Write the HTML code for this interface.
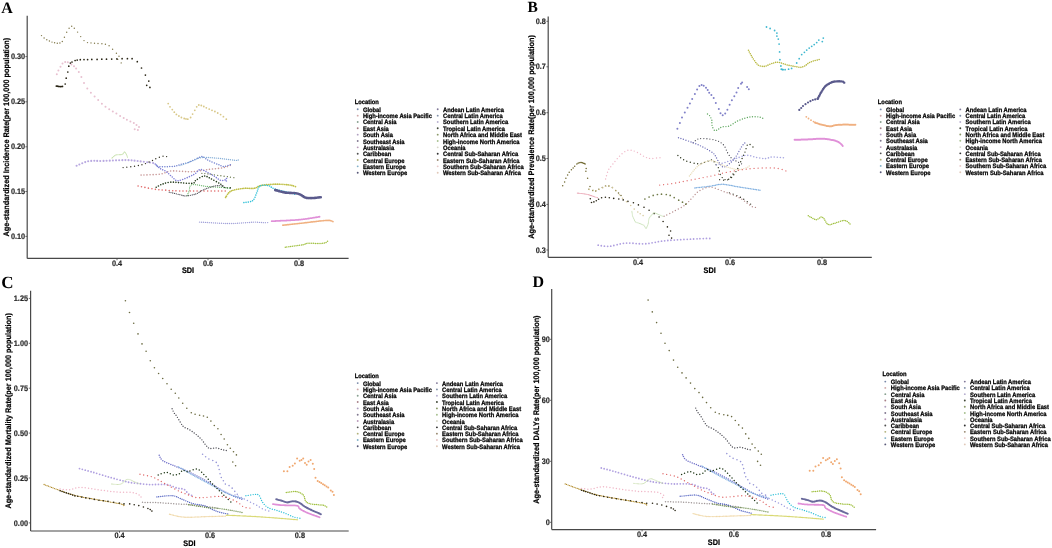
<!DOCTYPE html>
<html><head><meta charset="utf-8"><style>html,body{margin:0;padding:0;background:#fff;width:1052px;height:548px;overflow:hidden}svg{display:block;will-change:transform}</style></head>
<body><div id="w"><svg text-rendering="geometricPrecision" width="1052" height="548" viewBox="0 0 1052 548">
<defs><filter id="bl" x="0" y="0" width="1" height="1"><feGaussianBlur stdDeviation="0"/></filter></defs>
<rect width="1052" height="548" fill="#fff"/>
<g>
<text x="1.3" y="12.9" font-family="Liberation Serif" font-weight="700" font-size="16" fill="#000" text-anchor="start" stroke="#000" stroke-width="0">A</text>
<line x1="27.2" y1="15.7" x2="27.2" y2="258.4" stroke="#484848" stroke-width="1.2"/>
<line x1="27.2" y1="258.4" x2="348.6" y2="258.4" stroke="#484848" stroke-width="1.2"/>
<line x1="25.4" y1="56.6" x2="27.2" y2="56.6" stroke="#484848" stroke-width="0.8"/>
<text x="25.099999999999998" y="59.25" font-family="Liberation Sans" font-weight="700" font-size="7.3" fill="#262626" text-anchor="end" stroke="#262626" stroke-width="0.16" transform="translate(25.099999999999998 59.25) scale(1 1.1) translate(-25.099999999999998 -59.25)">0.30</text>
<line x1="25.4" y1="101.8" x2="27.2" y2="101.8" stroke="#484848" stroke-width="0.8"/>
<text x="25.099999999999998" y="104.45" font-family="Liberation Sans" font-weight="700" font-size="7.3" fill="#262626" text-anchor="end" stroke="#262626" stroke-width="0.16" transform="translate(25.099999999999998 104.45) scale(1 1.1) translate(-25.099999999999998 -104.45)">0.25</text>
<line x1="25.4" y1="146.8" x2="27.2" y2="146.8" stroke="#484848" stroke-width="0.8"/>
<text x="25.099999999999998" y="149.45000000000002" font-family="Liberation Sans" font-weight="700" font-size="7.3" fill="#262626" text-anchor="end" stroke="#262626" stroke-width="0.16" transform="translate(25.099999999999998 149.45000000000002) scale(1 1.1) translate(-25.099999999999998 -149.45000000000002)">0.20</text>
<line x1="25.4" y1="191.5" x2="27.2" y2="191.5" stroke="#484848" stroke-width="0.8"/>
<text x="25.099999999999998" y="194.15" font-family="Liberation Sans" font-weight="700" font-size="7.3" fill="#262626" text-anchor="end" stroke="#262626" stroke-width="0.16" transform="translate(25.099999999999998 194.15) scale(1 1.1) translate(-25.099999999999998 -194.15)">0.15</text>
<line x1="25.4" y1="236.4" x2="27.2" y2="236.4" stroke="#484848" stroke-width="0.8"/>
<text x="25.099999999999998" y="239.05" font-family="Liberation Sans" font-weight="700" font-size="7.3" fill="#262626" text-anchor="end" stroke="#262626" stroke-width="0.16" transform="translate(25.099999999999998 239.05) scale(1 1.1) translate(-25.099999999999998 -239.05)">0.10</text>
<line x1="117" y1="258.4" x2="117" y2="260.2" stroke="#484848" stroke-width="0.8"/>
<text x="117" y="266.4" font-family="Liberation Sans" font-weight="700" font-size="7.3" fill="#262626" text-anchor="middle" stroke="#262626" stroke-width="0.16" transform="translate(117 266.4) scale(1 1.1) translate(-117 -266.4)">0.4</text>
<line x1="208" y1="258.4" x2="208" y2="260.2" stroke="#484848" stroke-width="0.8"/>
<text x="208" y="266.4" font-family="Liberation Sans" font-weight="700" font-size="7.3" fill="#262626" text-anchor="middle" stroke="#262626" stroke-width="0.16" transform="translate(208 266.4) scale(1 1.1) translate(-208 -266.4)">0.6</text>
<line x1="299" y1="258.4" x2="299" y2="260.2" stroke="#484848" stroke-width="0.8"/>
<text x="299" y="266.4" font-family="Liberation Sans" font-weight="700" font-size="7.3" fill="#262626" text-anchor="middle" stroke="#262626" stroke-width="0.16" transform="translate(299 266.4) scale(1 1.1) translate(-299 -266.4)">0.8</text>
<text x="188" y="273.4" font-family="Liberation Sans" font-weight="700" font-size="7.3" fill="#000" text-anchor="middle" stroke="#000" stroke-width="0.2" transform="translate(188 273.4) scale(1 1.1) translate(-188 -273.4)">SDI</text>
<text x="9.2" y="137.1" font-family="Liberation Sans" font-weight="700" font-size="7.3" fill="#000" text-anchor="middle" stroke="#000" stroke-width="0.2" transform="rotate(-90 9.2 137.1) translate(9.2 137.1) scale(1 1.1) translate(-9.2 -137.1)">Age-standardized Incidence Rate(per 100,000 population)</text>
<text x="354.7" y="104.0" font-family="Liberation Sans" font-weight="700" font-size="5.8" fill="#000" text-anchor="start" stroke="#000" stroke-width="0.24" transform="translate(354.7 104.0) scale(1 1.1) translate(-354.7 -104.0)">Location</text>
<circle cx="357.7" cy="109.3" r="0.95" fill="#7888a8"/>
<text x="362.9" y="111.8" font-family="Liberation Sans" font-weight="700" font-size="5.8" fill="#000" text-anchor="start" stroke="#000" stroke-width="0.24" transform="translate(362.9 111.8) scale(1 1.1) translate(-362.9 -111.8)">Global</text>
<circle cx="357.7" cy="115.64" r="0.95" fill="#d0a8a8"/>
<text x="362.9" y="118.14" font-family="Liberation Sans" font-weight="700" font-size="5.8" fill="#000" text-anchor="start" stroke="#000" stroke-width="0.24" transform="translate(362.9 118.14) scale(1 1.1) translate(-362.9 -118.14)">High-income Asia Pacific</text>
<circle cx="357.7" cy="121.97999999999999" r="0.95" fill="#88a090"/>
<text x="362.9" y="124.47999999999999" font-family="Liberation Sans" font-weight="700" font-size="5.8" fill="#000" text-anchor="start" stroke="#000" stroke-width="0.24" transform="translate(362.9 124.47999999999999) scale(1 1.1) translate(-362.9 -124.47999999999999)">Central Asia</text>
<circle cx="357.7" cy="128.32" r="0.95" fill="#a88088"/>
<text x="362.9" y="130.82" font-family="Liberation Sans" font-weight="700" font-size="5.8" fill="#000" text-anchor="start" stroke="#000" stroke-width="0.24" transform="translate(362.9 130.82) scale(1 1.1) translate(-362.9 -130.82)">East Asia</text>
<circle cx="357.7" cy="134.66" r="0.95" fill="#b0a0c0"/>
<text x="362.9" y="137.16" font-family="Liberation Sans" font-weight="700" font-size="5.8" fill="#000" text-anchor="start" stroke="#000" stroke-width="0.24" transform="translate(362.9 137.16) scale(1 1.1) translate(-362.9 -137.16)">South Asia</text>
<circle cx="357.7" cy="141.0" r="0.95" fill="#807890"/>
<text x="362.9" y="143.5" font-family="Liberation Sans" font-weight="700" font-size="5.8" fill="#000" text-anchor="start" stroke="#000" stroke-width="0.24" transform="translate(362.9 143.5) scale(1 1.1) translate(-362.9 -143.5)">Southeast Asia</text>
<circle cx="357.7" cy="147.34" r="0.95" fill="#b898b8"/>
<text x="362.9" y="149.84" font-family="Liberation Sans" font-weight="700" font-size="5.8" fill="#000" text-anchor="start" stroke="#000" stroke-width="0.24" transform="translate(362.9 149.84) scale(1 1.1) translate(-362.9 -149.84)">Australasia</text>
<circle cx="357.7" cy="153.68" r="0.95" fill="#505050"/>
<text x="362.9" y="156.18" font-family="Liberation Sans" font-weight="700" font-size="5.8" fill="#000" text-anchor="start" stroke="#000" stroke-width="0.24" transform="translate(362.9 156.18) scale(1 1.1) translate(-362.9 -156.18)">Caribbean</text>
<circle cx="357.7" cy="160.01999999999998" r="0.95" fill="#b0b078"/>
<text x="362.9" y="162.51999999999998" font-family="Liberation Sans" font-weight="700" font-size="5.8" fill="#000" text-anchor="start" stroke="#000" stroke-width="0.24" transform="translate(362.9 162.51999999999998) scale(1 1.1) translate(-362.9 -162.51999999999998)">Central Europe</text>
<circle cx="357.7" cy="166.36" r="0.95" fill="#80b0c8"/>
<text x="362.9" y="168.86" font-family="Liberation Sans" font-weight="700" font-size="5.8" fill="#000" text-anchor="start" stroke="#000" stroke-width="0.24" transform="translate(362.9 168.86) scale(1 1.1) translate(-362.9 -168.86)">Eastern Europe</text>
<circle cx="357.7" cy="172.7" r="0.95" fill="#585878"/>
<text x="362.9" y="175.2" font-family="Liberation Sans" font-weight="700" font-size="5.8" fill="#000" text-anchor="start" stroke="#000" stroke-width="0.24" transform="translate(362.9 175.2) scale(1 1.1) translate(-362.9 -175.2)">Western Europe</text>
<circle cx="437.7" cy="109.3" r="0.95" fill="#807898"/>
<text x="443.0" y="111.8" font-family="Liberation Sans" font-weight="700" font-size="5.8" fill="#000" text-anchor="start" stroke="#000" stroke-width="0.24" transform="translate(443.0 111.8) scale(1 1.1) translate(-443.0 -111.8)">Andean Latin America</text>
<circle cx="437.7" cy="115.64" r="0.95" fill="#8090a8"/>
<text x="443.0" y="118.14" font-family="Liberation Sans" font-weight="700" font-size="5.8" fill="#000" text-anchor="start" stroke="#000" stroke-width="0.24" transform="translate(443.0 118.14) scale(1 1.1) translate(-443.0 -118.14)">Central Latin America</text>
<circle cx="437.7" cy="121.97999999999999" r="0.95" fill="#b8b0d0"/>
<text x="443.0" y="124.47999999999999" font-family="Liberation Sans" font-weight="700" font-size="5.8" fill="#000" text-anchor="start" stroke="#000" stroke-width="0.24" transform="translate(443.0 124.47999999999999) scale(1 1.1) translate(-443.0 -124.47999999999999)">Southern Latin America</text>
<circle cx="437.7" cy="128.32" r="0.95" fill="#404838"/>
<text x="443.0" y="130.82" font-family="Liberation Sans" font-weight="700" font-size="5.8" fill="#000" text-anchor="start" stroke="#000" stroke-width="0.24" transform="translate(443.0 130.82) scale(1 1.1) translate(-443.0 -130.82)">Tropical Latin America</text>
<circle cx="437.7" cy="134.66" r="0.95" fill="#8a9868"/>
<text x="443.0" y="137.16" font-family="Liberation Sans" font-weight="700" font-size="5.8" fill="#000" text-anchor="start" stroke="#000" stroke-width="0.24" transform="translate(443.0 137.16) scale(1 1.1) translate(-443.0 -137.16)">North Africa and Middle East</text>
<circle cx="437.7" cy="141.0" r="0.95" fill="#a8c090"/>
<text x="443.0" y="143.5" font-family="Liberation Sans" font-weight="700" font-size="5.8" fill="#000" text-anchor="start" stroke="#000" stroke-width="0.24" transform="translate(443.0 143.5) scale(1 1.1) translate(-443.0 -143.5)">High-income North America</text>
<circle cx="437.7" cy="147.34" r="0.95" fill="#d8d8c8"/>
<text x="443.0" y="149.84" font-family="Liberation Sans" font-weight="700" font-size="5.8" fill="#000" text-anchor="start" stroke="#000" stroke-width="0.24" transform="translate(443.0 149.84) scale(1 1.1) translate(-443.0 -149.84)">Oceania</text>
<circle cx="437.7" cy="153.68" r="0.95" fill="#303030"/>
<text x="443.0" y="156.18" font-family="Liberation Sans" font-weight="700" font-size="5.8" fill="#000" text-anchor="start" stroke="#000" stroke-width="0.24" transform="translate(443.0 156.18) scale(1 1.1) translate(-443.0 -156.18)">Central Sub-Saharan Africa</text>
<circle cx="437.7" cy="160.01999999999998" r="0.95" fill="#988870"/>
<text x="443.0" y="162.51999999999998" font-family="Liberation Sans" font-weight="700" font-size="5.8" fill="#000" text-anchor="start" stroke="#000" stroke-width="0.24" transform="translate(443.0 162.51999999999998) scale(1 1.1) translate(-443.0 -162.51999999999998)">Eastern Sub-Saharan Africa</text>
<circle cx="437.7" cy="166.36" r="0.95" fill="#e8c8c8"/>
<text x="443.0" y="168.86" font-family="Liberation Sans" font-weight="700" font-size="5.8" fill="#000" text-anchor="start" stroke="#000" stroke-width="0.24" transform="translate(443.0 168.86) scale(1 1.1) translate(-443.0 -168.86)">Southern Sub-Saharan Africa</text>
<circle cx="437.7" cy="172.7" r="0.95" fill="#e0c8b8"/>
<text x="443.0" y="175.2" font-family="Liberation Sans" font-weight="700" font-size="5.8" fill="#000" text-anchor="start" stroke="#000" stroke-width="0.24" transform="translate(443.0 175.2) scale(1 1.1) translate(-443.0 -175.2)">Western Sub-Saharan Africa</text>
<text x="527.6" y="11.8" font-family="Liberation Serif" font-weight="700" font-size="15.5" fill="#000" text-anchor="start" stroke="#000" stroke-width="0">B</text>
<line x1="548.2" y1="16.4" x2="548.2" y2="257.3" stroke="#484848" stroke-width="1.2"/>
<line x1="548.2" y1="257.3" x2="871.8" y2="257.3" stroke="#484848" stroke-width="1.2"/>
<line x1="546.4000000000001" y1="21.3" x2="548.2" y2="21.3" stroke="#484848" stroke-width="0.8"/>
<text x="545.9000000000001" y="23.95" font-family="Liberation Sans" font-weight="700" font-size="7.3" fill="#262626" text-anchor="end" stroke="#262626" stroke-width="0.16" transform="translate(545.9000000000001 23.95) scale(1 1.1) translate(-545.9000000000001 -23.95)">0.8</text>
<line x1="546.4000000000001" y1="66.8" x2="548.2" y2="66.8" stroke="#484848" stroke-width="0.8"/>
<text x="545.9000000000001" y="69.45" font-family="Liberation Sans" font-weight="700" font-size="7.3" fill="#262626" text-anchor="end" stroke="#262626" stroke-width="0.16" transform="translate(545.9000000000001 69.45) scale(1 1.1) translate(-545.9000000000001 -69.45)">0.7</text>
<line x1="546.4000000000001" y1="112.7" x2="548.2" y2="112.7" stroke="#484848" stroke-width="0.8"/>
<text x="545.9000000000001" y="115.35000000000001" font-family="Liberation Sans" font-weight="700" font-size="7.3" fill="#262626" text-anchor="end" stroke="#262626" stroke-width="0.16" transform="translate(545.9000000000001 115.35000000000001) scale(1 1.1) translate(-545.9000000000001 -115.35000000000001)">0.6</text>
<line x1="546.4000000000001" y1="158.5" x2="548.2" y2="158.5" stroke="#484848" stroke-width="0.8"/>
<text x="545.9000000000001" y="161.15" font-family="Liberation Sans" font-weight="700" font-size="7.3" fill="#262626" text-anchor="end" stroke="#262626" stroke-width="0.16" transform="translate(545.9000000000001 161.15) scale(1 1.1) translate(-545.9000000000001 -161.15)">0.5</text>
<line x1="546.4000000000001" y1="204.4" x2="548.2" y2="204.4" stroke="#484848" stroke-width="0.8"/>
<text x="545.9000000000001" y="207.05" font-family="Liberation Sans" font-weight="700" font-size="7.3" fill="#262626" text-anchor="end" stroke="#262626" stroke-width="0.16" transform="translate(545.9000000000001 207.05) scale(1 1.1) translate(-545.9000000000001 -207.05)">0.4</text>
<line x1="546.4000000000001" y1="250.0" x2="548.2" y2="250.0" stroke="#484848" stroke-width="0.8"/>
<text x="545.9000000000001" y="252.65" font-family="Liberation Sans" font-weight="700" font-size="7.3" fill="#262626" text-anchor="end" stroke="#262626" stroke-width="0.16" transform="translate(545.9000000000001 252.65) scale(1 1.1) translate(-545.9000000000001 -252.65)">0.3</text>
<line x1="638" y1="257.3" x2="638" y2="259.1" stroke="#484848" stroke-width="0.8"/>
<text x="638" y="265.3" font-family="Liberation Sans" font-weight="700" font-size="7.3" fill="#262626" text-anchor="middle" stroke="#262626" stroke-width="0.16" transform="translate(638 265.3) scale(1 1.1) translate(-638 -265.3)">0.4</text>
<line x1="730.1" y1="257.3" x2="730.1" y2="259.1" stroke="#484848" stroke-width="0.8"/>
<text x="730.1" y="265.3" font-family="Liberation Sans" font-weight="700" font-size="7.3" fill="#262626" text-anchor="middle" stroke="#262626" stroke-width="0.16" transform="translate(730.1 265.3) scale(1 1.1) translate(-730.1 -265.3)">0.6</text>
<line x1="822" y1="257.3" x2="822" y2="259.1" stroke="#484848" stroke-width="0.8"/>
<text x="822" y="265.3" font-family="Liberation Sans" font-weight="700" font-size="7.3" fill="#262626" text-anchor="middle" stroke="#262626" stroke-width="0.16" transform="translate(822 265.3) scale(1 1.1) translate(-822 -265.3)">0.8</text>
<text x="709.7" y="273.29999999999995" font-family="Liberation Sans" font-weight="700" font-size="7.3" fill="#000" text-anchor="middle" stroke="#000" stroke-width="0.2" transform="translate(709.7 273.29999999999995) scale(1 1.1) translate(-709.7 -273.29999999999995)">SDI</text>
<text x="534.4" y="136.9" font-family="Liberation Sans" font-weight="700" font-size="7.3" fill="#000" text-anchor="middle" stroke="#000" stroke-width="0.2" transform="rotate(-90 534.4 136.9) translate(534.4 136.9) scale(1 1.1) translate(-534.4 -136.9)">Age-standardized Prevalence Rate(per 100,000 population)</text>
<text x="877.8" y="104.0" font-family="Liberation Sans" font-weight="700" font-size="5.8" fill="#000" text-anchor="start" stroke="#000" stroke-width="0.24" transform="translate(877.8 104.0) scale(1 1.1) translate(-877.8 -104.0)">Location</text>
<circle cx="880.7" cy="109.4" r="0.95" fill="#7888a8"/>
<text x="886.1" y="111.9" font-family="Liberation Sans" font-weight="700" font-size="5.8" fill="#000" text-anchor="start" stroke="#000" stroke-width="0.24" transform="translate(886.1 111.9) scale(1 1.1) translate(-886.1 -111.9)">Global</text>
<circle cx="880.7" cy="115.68" r="0.95" fill="#d0a8a8"/>
<text x="886.1" y="118.18" font-family="Liberation Sans" font-weight="700" font-size="5.8" fill="#000" text-anchor="start" stroke="#000" stroke-width="0.24" transform="translate(886.1 118.18) scale(1 1.1) translate(-886.1 -118.18)">High-income Asia Pacific</text>
<circle cx="880.7" cy="121.96000000000001" r="0.95" fill="#88a090"/>
<text x="886.1" y="124.46000000000001" font-family="Liberation Sans" font-weight="700" font-size="5.8" fill="#000" text-anchor="start" stroke="#000" stroke-width="0.24" transform="translate(886.1 124.46000000000001) scale(1 1.1) translate(-886.1 -124.46000000000001)">Central Asia</text>
<circle cx="880.7" cy="128.24" r="0.95" fill="#a88088"/>
<text x="886.1" y="130.74" font-family="Liberation Sans" font-weight="700" font-size="5.8" fill="#000" text-anchor="start" stroke="#000" stroke-width="0.24" transform="translate(886.1 130.74) scale(1 1.1) translate(-886.1 -130.74)">East Asia</text>
<circle cx="880.7" cy="134.52" r="0.95" fill="#b0a0c0"/>
<text x="886.1" y="137.02" font-family="Liberation Sans" font-weight="700" font-size="5.8" fill="#000" text-anchor="start" stroke="#000" stroke-width="0.24" transform="translate(886.1 137.02) scale(1 1.1) translate(-886.1 -137.02)">South Asia</text>
<circle cx="880.7" cy="140.8" r="0.95" fill="#807890"/>
<text x="886.1" y="143.3" font-family="Liberation Sans" font-weight="700" font-size="5.8" fill="#000" text-anchor="start" stroke="#000" stroke-width="0.24" transform="translate(886.1 143.3) scale(1 1.1) translate(-886.1 -143.3)">Southeast Asia</text>
<circle cx="880.7" cy="147.08" r="0.95" fill="#b898b8"/>
<text x="886.1" y="149.58" font-family="Liberation Sans" font-weight="700" font-size="5.8" fill="#000" text-anchor="start" stroke="#000" stroke-width="0.24" transform="translate(886.1 149.58) scale(1 1.1) translate(-886.1 -149.58)">Australasia</text>
<circle cx="880.7" cy="153.36" r="0.95" fill="#505050"/>
<text x="886.1" y="155.86" font-family="Liberation Sans" font-weight="700" font-size="5.8" fill="#000" text-anchor="start" stroke="#000" stroke-width="0.24" transform="translate(886.1 155.86) scale(1 1.1) translate(-886.1 -155.86)">Caribbean</text>
<circle cx="880.7" cy="159.64000000000001" r="0.95" fill="#b0b078"/>
<text x="886.1" y="162.14000000000001" font-family="Liberation Sans" font-weight="700" font-size="5.8" fill="#000" text-anchor="start" stroke="#000" stroke-width="0.24" transform="translate(886.1 162.14000000000001) scale(1 1.1) translate(-886.1 -162.14000000000001)">Central Europe</text>
<circle cx="880.7" cy="165.92000000000002" r="0.95" fill="#80b0c8"/>
<text x="886.1" y="168.42000000000002" font-family="Liberation Sans" font-weight="700" font-size="5.8" fill="#000" text-anchor="start" stroke="#000" stroke-width="0.24" transform="translate(886.1 168.42000000000002) scale(1 1.1) translate(-886.1 -168.42000000000002)">Eastern Europe</text>
<circle cx="880.7" cy="172.20000000000002" r="0.95" fill="#585878"/>
<text x="886.1" y="174.70000000000002" font-family="Liberation Sans" font-weight="700" font-size="5.8" fill="#000" text-anchor="start" stroke="#000" stroke-width="0.24" transform="translate(886.1 174.70000000000002) scale(1 1.1) translate(-886.1 -174.70000000000002)">Western Europe</text>
<circle cx="960.3" cy="109.4" r="0.95" fill="#807898"/>
<text x="965.5" y="111.9" font-family="Liberation Sans" font-weight="700" font-size="5.8" fill="#000" text-anchor="start" stroke="#000" stroke-width="0.24" transform="translate(965.5 111.9) scale(1 1.1) translate(-965.5 -111.9)">Andean Latin America</text>
<circle cx="960.3" cy="115.68" r="0.95" fill="#8090a8"/>
<text x="965.5" y="118.18" font-family="Liberation Sans" font-weight="700" font-size="5.8" fill="#000" text-anchor="start" stroke="#000" stroke-width="0.24" transform="translate(965.5 118.18) scale(1 1.1) translate(-965.5 -118.18)">Central Latin America</text>
<circle cx="960.3" cy="121.96000000000001" r="0.95" fill="#b8b0d0"/>
<text x="965.5" y="124.46000000000001" font-family="Liberation Sans" font-weight="700" font-size="5.8" fill="#000" text-anchor="start" stroke="#000" stroke-width="0.24" transform="translate(965.5 124.46000000000001) scale(1 1.1) translate(-965.5 -124.46000000000001)">Southern Latin America</text>
<circle cx="960.3" cy="128.24" r="0.95" fill="#404838"/>
<text x="965.5" y="130.74" font-family="Liberation Sans" font-weight="700" font-size="5.8" fill="#000" text-anchor="start" stroke="#000" stroke-width="0.24" transform="translate(965.5 130.74) scale(1 1.1) translate(-965.5 -130.74)">Tropical Latin America</text>
<circle cx="960.3" cy="134.52" r="0.95" fill="#8a9868"/>
<text x="965.5" y="137.02" font-family="Liberation Sans" font-weight="700" font-size="5.8" fill="#000" text-anchor="start" stroke="#000" stroke-width="0.24" transform="translate(965.5 137.02) scale(1 1.1) translate(-965.5 -137.02)">North Africa and Middle East</text>
<circle cx="960.3" cy="140.8" r="0.95" fill="#a8c090"/>
<text x="965.5" y="143.3" font-family="Liberation Sans" font-weight="700" font-size="5.8" fill="#000" text-anchor="start" stroke="#000" stroke-width="0.24" transform="translate(965.5 143.3) scale(1 1.1) translate(-965.5 -143.3)">High-income North America</text>
<circle cx="960.3" cy="147.08" r="0.95" fill="#d8d8c8"/>
<text x="965.5" y="149.58" font-family="Liberation Sans" font-weight="700" font-size="5.8" fill="#000" text-anchor="start" stroke="#000" stroke-width="0.24" transform="translate(965.5 149.58) scale(1 1.1) translate(-965.5 -149.58)">Oceania</text>
<circle cx="960.3" cy="153.36" r="0.95" fill="#303030"/>
<text x="965.5" y="155.86" font-family="Liberation Sans" font-weight="700" font-size="5.8" fill="#000" text-anchor="start" stroke="#000" stroke-width="0.24" transform="translate(965.5 155.86) scale(1 1.1) translate(-965.5 -155.86)">Central Sub-Saharan Africa</text>
<circle cx="960.3" cy="159.64000000000001" r="0.95" fill="#988870"/>
<text x="965.5" y="162.14000000000001" font-family="Liberation Sans" font-weight="700" font-size="5.8" fill="#000" text-anchor="start" stroke="#000" stroke-width="0.24" transform="translate(965.5 162.14000000000001) scale(1 1.1) translate(-965.5 -162.14000000000001)">Eastern Sub-Saharan Africa</text>
<circle cx="960.3" cy="165.92000000000002" r="0.95" fill="#e8c8c8"/>
<text x="965.5" y="168.42000000000002" font-family="Liberation Sans" font-weight="700" font-size="5.8" fill="#000" text-anchor="start" stroke="#000" stroke-width="0.24" transform="translate(965.5 168.42000000000002) scale(1 1.1) translate(-965.5 -168.42000000000002)">Southern Sub-Saharan Africa</text>
<circle cx="960.3" cy="172.20000000000002" r="0.95" fill="#e0c8b8"/>
<text x="965.5" y="174.70000000000002" font-family="Liberation Sans" font-weight="700" font-size="5.8" fill="#000" text-anchor="start" stroke="#000" stroke-width="0.24" transform="translate(965.5 174.70000000000002) scale(1 1.1) translate(-965.5 -174.70000000000002)">Western Sub-Saharan Africa</text>
<text x="1.2" y="288.2" font-family="Liberation Serif" font-weight="700" font-size="17" fill="#000" text-anchor="start" stroke="#000" stroke-width="0">C</text>
<line x1="30.6" y1="290.7" x2="30.6" y2="531.0" stroke="#484848" stroke-width="1.2"/>
<line x1="30.6" y1="531.0" x2="348.7" y2="531.0" stroke="#484848" stroke-width="1.2"/>
<line x1="28.8" y1="298.4" x2="30.6" y2="298.4" stroke="#484848" stroke-width="0.8"/>
<text x="28.0" y="301.04999999999995" font-family="Liberation Sans" font-weight="700" font-size="7.3" fill="#262626" text-anchor="end" stroke="#262626" stroke-width="0.16" transform="translate(28.0 301.04999999999995) scale(1 1.1) translate(-28.0 -301.04999999999995)">1.25</text>
<line x1="28.8" y1="343.3" x2="30.6" y2="343.3" stroke="#484848" stroke-width="0.8"/>
<text x="28.0" y="345.95" font-family="Liberation Sans" font-weight="700" font-size="7.3" fill="#262626" text-anchor="end" stroke="#262626" stroke-width="0.16" transform="translate(28.0 345.95) scale(1 1.1) translate(-28.0 -345.95)">1.00</text>
<line x1="28.8" y1="388.2" x2="30.6" y2="388.2" stroke="#484848" stroke-width="0.8"/>
<text x="28.0" y="390.84999999999997" font-family="Liberation Sans" font-weight="700" font-size="7.3" fill="#262626" text-anchor="end" stroke="#262626" stroke-width="0.16" transform="translate(28.0 390.84999999999997) scale(1 1.1) translate(-28.0 -390.84999999999997)">0.75</text>
<line x1="28.8" y1="433.1" x2="30.6" y2="433.1" stroke="#484848" stroke-width="0.8"/>
<text x="28.0" y="435.75" font-family="Liberation Sans" font-weight="700" font-size="7.3" fill="#262626" text-anchor="end" stroke="#262626" stroke-width="0.16" transform="translate(28.0 435.75) scale(1 1.1) translate(-28.0 -435.75)">0.50</text>
<line x1="28.8" y1="478.0" x2="30.6" y2="478.0" stroke="#484848" stroke-width="0.8"/>
<text x="28.0" y="480.65" font-family="Liberation Sans" font-weight="700" font-size="7.3" fill="#262626" text-anchor="end" stroke="#262626" stroke-width="0.16" transform="translate(28.0 480.65) scale(1 1.1) translate(-28.0 -480.65)">0.25</text>
<line x1="28.8" y1="522.9" x2="30.6" y2="522.9" stroke="#484848" stroke-width="0.8"/>
<text x="28.0" y="525.55" font-family="Liberation Sans" font-weight="700" font-size="7.3" fill="#262626" text-anchor="end" stroke="#262626" stroke-width="0.16" transform="translate(28.0 525.55) scale(1 1.1) translate(-28.0 -525.55)">0.00</text>
<line x1="119.5" y1="531.0" x2="119.5" y2="532.8" stroke="#484848" stroke-width="0.8"/>
<text x="119.5" y="538.3" font-family="Liberation Sans" font-weight="700" font-size="7.3" fill="#262626" text-anchor="middle" stroke="#262626" stroke-width="0.16" transform="translate(119.5 538.3) scale(1 1.1) translate(-119.5 -538.3)">0.4</text>
<line x1="210" y1="531.0" x2="210" y2="532.8" stroke="#484848" stroke-width="0.8"/>
<text x="210" y="538.3" font-family="Liberation Sans" font-weight="700" font-size="7.3" fill="#262626" text-anchor="middle" stroke="#262626" stroke-width="0.16" transform="translate(210 538.3) scale(1 1.1) translate(-210 -538.3)">0.6</text>
<line x1="299.9" y1="531.0" x2="299.9" y2="532.8" stroke="#484848" stroke-width="0.8"/>
<text x="299.9" y="538.3" font-family="Liberation Sans" font-weight="700" font-size="7.3" fill="#262626" text-anchor="middle" stroke="#262626" stroke-width="0.16" transform="translate(299.9 538.3) scale(1 1.1) translate(-299.9 -538.3)">0.8</text>
<text x="189.4" y="546.1999999999999" font-family="Liberation Sans" font-weight="700" font-size="7.3" fill="#000" text-anchor="middle" stroke="#000" stroke-width="0.2" transform="translate(189.4 546.1999999999999) scale(1 1.1) translate(-189.4 -546.1999999999999)">SDI</text>
<text x="11.5" y="410.9" font-family="Liberation Sans" font-weight="700" font-size="7.3" fill="#000" text-anchor="middle" stroke="#000" stroke-width="0.2" transform="rotate(-90 11.5 410.9) translate(11.5 410.9) scale(1 1.1) translate(-11.5 -410.9)">Age-standardized Mortality Rate(per 100,000 population)</text>
<text x="354.7" y="377.8" font-family="Liberation Sans" font-weight="700" font-size="5.8" fill="#000" text-anchor="start" stroke="#000" stroke-width="0.24" transform="translate(354.7 377.8) scale(1 1.1) translate(-354.7 -377.8)">Location</text>
<circle cx="357.7" cy="383.1" r="0.95" fill="#7888a8"/>
<text x="362.9" y="385.6" font-family="Liberation Sans" font-weight="700" font-size="5.8" fill="#000" text-anchor="start" stroke="#000" stroke-width="0.24" transform="translate(362.9 385.6) scale(1 1.1) translate(-362.9 -385.6)">Global</text>
<circle cx="357.7" cy="389.42" r="0.95" fill="#d0a8a8"/>
<text x="362.9" y="391.92" font-family="Liberation Sans" font-weight="700" font-size="5.8" fill="#000" text-anchor="start" stroke="#000" stroke-width="0.24" transform="translate(362.9 391.92) scale(1 1.1) translate(-362.9 -391.92)">High-income Asia Pacific</text>
<circle cx="357.7" cy="395.74" r="0.95" fill="#88a090"/>
<text x="362.9" y="398.24" font-family="Liberation Sans" font-weight="700" font-size="5.8" fill="#000" text-anchor="start" stroke="#000" stroke-width="0.24" transform="translate(362.9 398.24) scale(1 1.1) translate(-362.9 -398.24)">Central Asia</text>
<circle cx="357.7" cy="402.06" r="0.95" fill="#a88088"/>
<text x="362.9" y="404.56" font-family="Liberation Sans" font-weight="700" font-size="5.8" fill="#000" text-anchor="start" stroke="#000" stroke-width="0.24" transform="translate(362.9 404.56) scale(1 1.1) translate(-362.9 -404.56)">East Asia</text>
<circle cx="357.7" cy="408.38" r="0.95" fill="#b0a0c0"/>
<text x="362.9" y="410.88" font-family="Liberation Sans" font-weight="700" font-size="5.8" fill="#000" text-anchor="start" stroke="#000" stroke-width="0.24" transform="translate(362.9 410.88) scale(1 1.1) translate(-362.9 -410.88)">South Asia</text>
<circle cx="357.7" cy="414.70000000000005" r="0.95" fill="#807890"/>
<text x="362.9" y="417.20000000000005" font-family="Liberation Sans" font-weight="700" font-size="5.8" fill="#000" text-anchor="start" stroke="#000" stroke-width="0.24" transform="translate(362.9 417.20000000000005) scale(1 1.1) translate(-362.9 -417.20000000000005)">Southeast Asia</text>
<circle cx="357.7" cy="421.02000000000004" r="0.95" fill="#b898b8"/>
<text x="362.9" y="423.52000000000004" font-family="Liberation Sans" font-weight="700" font-size="5.8" fill="#000" text-anchor="start" stroke="#000" stroke-width="0.24" transform="translate(362.9 423.52000000000004) scale(1 1.1) translate(-362.9 -423.52000000000004)">Australasia</text>
<circle cx="357.7" cy="427.34000000000003" r="0.95" fill="#505050"/>
<text x="362.9" y="429.84000000000003" font-family="Liberation Sans" font-weight="700" font-size="5.8" fill="#000" text-anchor="start" stroke="#000" stroke-width="0.24" transform="translate(362.9 429.84000000000003) scale(1 1.1) translate(-362.9 -429.84000000000003)">Caribbean</text>
<circle cx="357.7" cy="433.66" r="0.95" fill="#b0b078"/>
<text x="362.9" y="436.16" font-family="Liberation Sans" font-weight="700" font-size="5.8" fill="#000" text-anchor="start" stroke="#000" stroke-width="0.24" transform="translate(362.9 436.16) scale(1 1.1) translate(-362.9 -436.16)">Central Europe</text>
<circle cx="357.7" cy="439.98" r="0.95" fill="#80b0c8"/>
<text x="362.9" y="442.48" font-family="Liberation Sans" font-weight="700" font-size="5.8" fill="#000" text-anchor="start" stroke="#000" stroke-width="0.24" transform="translate(362.9 442.48) scale(1 1.1) translate(-362.9 -442.48)">Eastern Europe</text>
<circle cx="357.7" cy="446.3" r="0.95" fill="#585878"/>
<text x="362.9" y="448.8" font-family="Liberation Sans" font-weight="700" font-size="5.8" fill="#000" text-anchor="start" stroke="#000" stroke-width="0.24" transform="translate(362.9 448.8) scale(1 1.1) translate(-362.9 -448.8)">Western Europe</text>
<circle cx="436.9" cy="383.1" r="0.95" fill="#807898"/>
<text x="442.1" y="385.6" font-family="Liberation Sans" font-weight="700" font-size="5.8" fill="#000" text-anchor="start" stroke="#000" stroke-width="0.24" transform="translate(442.1 385.6) scale(1 1.1) translate(-442.1 -385.6)">Andean Latin America</text>
<circle cx="436.9" cy="389.42" r="0.95" fill="#8090a8"/>
<text x="442.1" y="391.92" font-family="Liberation Sans" font-weight="700" font-size="5.8" fill="#000" text-anchor="start" stroke="#000" stroke-width="0.24" transform="translate(442.1 391.92) scale(1 1.1) translate(-442.1 -391.92)">Central Latin America</text>
<circle cx="436.9" cy="395.74" r="0.95" fill="#b8b0d0"/>
<text x="442.1" y="398.24" font-family="Liberation Sans" font-weight="700" font-size="5.8" fill="#000" text-anchor="start" stroke="#000" stroke-width="0.24" transform="translate(442.1 398.24) scale(1 1.1) translate(-442.1 -398.24)">Southern Latin America</text>
<circle cx="436.9" cy="402.06" r="0.95" fill="#404838"/>
<text x="442.1" y="404.56" font-family="Liberation Sans" font-weight="700" font-size="5.8" fill="#000" text-anchor="start" stroke="#000" stroke-width="0.24" transform="translate(442.1 404.56) scale(1 1.1) translate(-442.1 -404.56)">Tropical Latin America</text>
<circle cx="436.9" cy="408.38" r="0.95" fill="#8a9868"/>
<text x="442.1" y="410.88" font-family="Liberation Sans" font-weight="700" font-size="5.8" fill="#000" text-anchor="start" stroke="#000" stroke-width="0.24" transform="translate(442.1 410.88) scale(1 1.1) translate(-442.1 -410.88)">North Africa and Middle East</text>
<circle cx="436.9" cy="414.70000000000005" r="0.95" fill="#a8c090"/>
<text x="442.1" y="417.20000000000005" font-family="Liberation Sans" font-weight="700" font-size="5.8" fill="#000" text-anchor="start" stroke="#000" stroke-width="0.24" transform="translate(442.1 417.20000000000005) scale(1 1.1) translate(-442.1 -417.20000000000005)">High-income North America</text>
<circle cx="436.9" cy="421.02000000000004" r="0.95" fill="#d8d8c8"/>
<text x="442.1" y="423.52000000000004" font-family="Liberation Sans" font-weight="700" font-size="5.8" fill="#000" text-anchor="start" stroke="#000" stroke-width="0.24" transform="translate(442.1 423.52000000000004) scale(1 1.1) translate(-442.1 -423.52000000000004)">Oceania</text>
<circle cx="436.9" cy="427.34000000000003" r="0.95" fill="#303030"/>
<text x="442.1" y="429.84000000000003" font-family="Liberation Sans" font-weight="700" font-size="5.8" fill="#000" text-anchor="start" stroke="#000" stroke-width="0.24" transform="translate(442.1 429.84000000000003) scale(1 1.1) translate(-442.1 -429.84000000000003)">Central Sub-Saharan Africa</text>
<circle cx="436.9" cy="433.66" r="0.95" fill="#988870"/>
<text x="442.1" y="436.16" font-family="Liberation Sans" font-weight="700" font-size="5.8" fill="#000" text-anchor="start" stroke="#000" stroke-width="0.24" transform="translate(442.1 436.16) scale(1 1.1) translate(-442.1 -436.16)">Eastern Sub-Saharan Africa</text>
<circle cx="436.9" cy="439.98" r="0.95" fill="#e8c8c8"/>
<text x="442.1" y="442.48" font-family="Liberation Sans" font-weight="700" font-size="5.8" fill="#000" text-anchor="start" stroke="#000" stroke-width="0.24" transform="translate(442.1 442.48) scale(1 1.1) translate(-442.1 -442.48)">Southern Sub-Saharan Africa</text>
<circle cx="436.9" cy="446.3" r="0.95" fill="#e0c8b8"/>
<text x="442.1" y="448.8" font-family="Liberation Sans" font-weight="700" font-size="5.8" fill="#000" text-anchor="start" stroke="#000" stroke-width="0.24" transform="translate(442.1 448.8) scale(1 1.1) translate(-442.1 -448.8)">Western Sub-Saharan Africa</text>
<text x="532.4" y="287.1" font-family="Liberation Serif" font-weight="700" font-size="16" fill="#000" text-anchor="start" stroke="#000" stroke-width="0">D</text>
<line x1="551.7" y1="289.1" x2="551.7" y2="529.6" stroke="#484848" stroke-width="1.2"/>
<line x1="551.7" y1="529.6" x2="876.1" y2="529.6" stroke="#484848" stroke-width="1.2"/>
<line x1="549.9000000000001" y1="339.3" x2="551.7" y2="339.3" stroke="#484848" stroke-width="0.8"/>
<text x="549.8000000000001" y="341.95" font-family="Liberation Sans" font-weight="700" font-size="7.3" fill="#262626" text-anchor="end" stroke="#262626" stroke-width="0.16" transform="translate(549.8000000000001 341.95) scale(1 1.1) translate(-549.8000000000001 -341.95)">90</text>
<line x1="549.9000000000001" y1="400.3" x2="551.7" y2="400.3" stroke="#484848" stroke-width="0.8"/>
<text x="549.8000000000001" y="402.95" font-family="Liberation Sans" font-weight="700" font-size="7.3" fill="#262626" text-anchor="end" stroke="#262626" stroke-width="0.16" transform="translate(549.8000000000001 402.95) scale(1 1.1) translate(-549.8000000000001 -402.95)">60</text>
<line x1="549.9000000000001" y1="461.3" x2="551.7" y2="461.3" stroke="#484848" stroke-width="0.8"/>
<text x="549.8000000000001" y="463.95" font-family="Liberation Sans" font-weight="700" font-size="7.3" fill="#262626" text-anchor="end" stroke="#262626" stroke-width="0.16" transform="translate(549.8000000000001 463.95) scale(1 1.1) translate(-549.8000000000001 -463.95)">30</text>
<line x1="549.9000000000001" y1="522.3" x2="551.7" y2="522.3" stroke="#484848" stroke-width="0.8"/>
<text x="549.8000000000001" y="524.9499999999999" font-family="Liberation Sans" font-weight="700" font-size="7.3" fill="#262626" text-anchor="end" stroke="#262626" stroke-width="0.16" transform="translate(549.8000000000001 524.9499999999999) scale(1 1.1) translate(-549.8000000000001 -524.9499999999999)">0</text>
<line x1="642.1" y1="529.6" x2="642.1" y2="531.4" stroke="#484848" stroke-width="0.8"/>
<text x="642.1" y="537.2" font-family="Liberation Sans" font-weight="700" font-size="7.3" fill="#262626" text-anchor="middle" stroke="#262626" stroke-width="0.16" transform="translate(642.1 537.2) scale(1 1.1) translate(-642.1 -537.2)">0.4</text>
<line x1="733.9" y1="529.6" x2="733.9" y2="531.4" stroke="#484848" stroke-width="0.8"/>
<text x="733.9" y="537.2" font-family="Liberation Sans" font-weight="700" font-size="7.3" fill="#262626" text-anchor="middle" stroke="#262626" stroke-width="0.16" transform="translate(733.9 537.2) scale(1 1.1) translate(-733.9 -537.2)">0.6</text>
<line x1="826" y1="529.6" x2="826" y2="531.4" stroke="#484848" stroke-width="0.8"/>
<text x="826" y="537.2" font-family="Liberation Sans" font-weight="700" font-size="7.3" fill="#262626" text-anchor="middle" stroke="#262626" stroke-width="0.16" transform="translate(826 537.2) scale(1 1.1) translate(-826 -537.2)">0.8</text>
<text x="713.9" y="545.1" font-family="Liberation Sans" font-weight="700" font-size="7.3" fill="#000" text-anchor="middle" stroke="#000" stroke-width="0.2" transform="translate(713.9 545.1) scale(1 1.1) translate(-713.9 -545.1)">SDI</text>
<text x="539.2" y="409.6" font-family="Liberation Sans" font-weight="700" font-size="7.3" fill="#000" text-anchor="middle" stroke="#000" stroke-width="0.2" transform="rotate(-90 539.2 409.6) translate(539.2 409.6) scale(1 1.1) translate(-539.2 -409.6)">Age-standardized DALYs Rate(per 100,000 population)</text>
<text x="882.5" y="376.0" font-family="Liberation Sans" font-weight="700" font-size="5.8" fill="#000" text-anchor="start" stroke="#000" stroke-width="0.24" transform="translate(882.5 376.0) scale(1 1.1) translate(-882.5 -376.0)">Location</text>
<circle cx="885.3" cy="381.6" r="0.95" fill="#7888a8"/>
<text x="890.8" y="384.1" font-family="Liberation Sans" font-weight="700" font-size="5.8" fill="#000" text-anchor="start" stroke="#000" stroke-width="0.24" transform="translate(890.8 384.1) scale(1 1.1) translate(-890.8 -384.1)">Global</text>
<circle cx="885.3" cy="387.88" r="0.95" fill="#d0a8a8"/>
<text x="890.8" y="390.38" font-family="Liberation Sans" font-weight="700" font-size="5.8" fill="#000" text-anchor="start" stroke="#000" stroke-width="0.24" transform="translate(890.8 390.38) scale(1 1.1) translate(-890.8 -390.38)">High-income Asia Pacific</text>
<circle cx="885.3" cy="394.16" r="0.95" fill="#88a090"/>
<text x="890.8" y="396.66" font-family="Liberation Sans" font-weight="700" font-size="5.8" fill="#000" text-anchor="start" stroke="#000" stroke-width="0.24" transform="translate(890.8 396.66) scale(1 1.1) translate(-890.8 -396.66)">Central Asia</text>
<circle cx="885.3" cy="400.44" r="0.95" fill="#a88088"/>
<text x="890.8" y="402.94" font-family="Liberation Sans" font-weight="700" font-size="5.8" fill="#000" text-anchor="start" stroke="#000" stroke-width="0.24" transform="translate(890.8 402.94) scale(1 1.1) translate(-890.8 -402.94)">East Asia</text>
<circle cx="885.3" cy="406.72" r="0.95" fill="#b0a0c0"/>
<text x="890.8" y="409.22" font-family="Liberation Sans" font-weight="700" font-size="5.8" fill="#000" text-anchor="start" stroke="#000" stroke-width="0.24" transform="translate(890.8 409.22) scale(1 1.1) translate(-890.8 -409.22)">South Asia</text>
<circle cx="885.3" cy="413.0" r="0.95" fill="#807890"/>
<text x="890.8" y="415.5" font-family="Liberation Sans" font-weight="700" font-size="5.8" fill="#000" text-anchor="start" stroke="#000" stroke-width="0.24" transform="translate(890.8 415.5) scale(1 1.1) translate(-890.8 -415.5)">Southeast Asia</text>
<circle cx="885.3" cy="419.28000000000003" r="0.95" fill="#b898b8"/>
<text x="890.8" y="421.78000000000003" font-family="Liberation Sans" font-weight="700" font-size="5.8" fill="#000" text-anchor="start" stroke="#000" stroke-width="0.24" transform="translate(890.8 421.78000000000003) scale(1 1.1) translate(-890.8 -421.78000000000003)">Australasia</text>
<circle cx="885.3" cy="425.56" r="0.95" fill="#505050"/>
<text x="890.8" y="428.06" font-family="Liberation Sans" font-weight="700" font-size="5.8" fill="#000" text-anchor="start" stroke="#000" stroke-width="0.24" transform="translate(890.8 428.06) scale(1 1.1) translate(-890.8 -428.06)">Caribbean</text>
<circle cx="885.3" cy="431.84000000000003" r="0.95" fill="#b0b078"/>
<text x="890.8" y="434.34000000000003" font-family="Liberation Sans" font-weight="700" font-size="5.8" fill="#000" text-anchor="start" stroke="#000" stroke-width="0.24" transform="translate(890.8 434.34000000000003) scale(1 1.1) translate(-890.8 -434.34000000000003)">Central Europe</text>
<circle cx="885.3" cy="438.12" r="0.95" fill="#80b0c8"/>
<text x="890.8" y="440.62" font-family="Liberation Sans" font-weight="700" font-size="5.8" fill="#000" text-anchor="start" stroke="#000" stroke-width="0.24" transform="translate(890.8 440.62) scale(1 1.1) translate(-890.8 -440.62)">Eastern Europe</text>
<circle cx="885.3" cy="444.40000000000003" r="0.95" fill="#585878"/>
<text x="890.8" y="446.90000000000003" font-family="Liberation Sans" font-weight="700" font-size="5.8" fill="#000" text-anchor="start" stroke="#000" stroke-width="0.24" transform="translate(890.8 446.90000000000003) scale(1 1.1) translate(-890.8 -446.90000000000003)">Western Europe</text>
<circle cx="964.8" cy="381.6" r="0.95" fill="#807898"/>
<text x="970.0" y="384.1" font-family="Liberation Sans" font-weight="700" font-size="5.8" fill="#000" text-anchor="start" stroke="#000" stroke-width="0.24" transform="translate(970.0 384.1) scale(1 1.1) translate(-970.0 -384.1)">Andean Latin America</text>
<circle cx="964.8" cy="387.88" r="0.95" fill="#8090a8"/>
<text x="970.0" y="390.38" font-family="Liberation Sans" font-weight="700" font-size="5.8" fill="#000" text-anchor="start" stroke="#000" stroke-width="0.24" transform="translate(970.0 390.38) scale(1 1.1) translate(-970.0 -390.38)">Central Latin America</text>
<circle cx="964.8" cy="394.16" r="0.95" fill="#b8b0d0"/>
<text x="970.0" y="396.66" font-family="Liberation Sans" font-weight="700" font-size="5.8" fill="#000" text-anchor="start" stroke="#000" stroke-width="0.24" transform="translate(970.0 396.66) scale(1 1.1) translate(-970.0 -396.66)">Southern Latin America</text>
<circle cx="964.8" cy="400.44" r="0.95" fill="#404838"/>
<text x="970.0" y="402.94" font-family="Liberation Sans" font-weight="700" font-size="5.8" fill="#000" text-anchor="start" stroke="#000" stroke-width="0.24" transform="translate(970.0 402.94) scale(1 1.1) translate(-970.0 -402.94)">Tropical Latin America</text>
<circle cx="964.8" cy="406.72" r="0.95" fill="#8a9868"/>
<text x="970.0" y="409.22" font-family="Liberation Sans" font-weight="700" font-size="5.8" fill="#000" text-anchor="start" stroke="#000" stroke-width="0.24" transform="translate(970.0 409.22) scale(1 1.1) translate(-970.0 -409.22)">North Africa and Middle East</text>
<circle cx="964.8" cy="413.0" r="0.95" fill="#a8c090"/>
<text x="970.0" y="415.5" font-family="Liberation Sans" font-weight="700" font-size="5.8" fill="#000" text-anchor="start" stroke="#000" stroke-width="0.24" transform="translate(970.0 415.5) scale(1 1.1) translate(-970.0 -415.5)">High-income North America</text>
<circle cx="964.8" cy="419.28000000000003" r="0.95" fill="#d8d8c8"/>
<text x="970.0" y="421.78000000000003" font-family="Liberation Sans" font-weight="700" font-size="5.8" fill="#000" text-anchor="start" stroke="#000" stroke-width="0.24" transform="translate(970.0 421.78000000000003) scale(1 1.1) translate(-970.0 -421.78000000000003)">Oceania</text>
<circle cx="964.8" cy="425.56" r="0.95" fill="#303030"/>
<text x="970.0" y="428.06" font-family="Liberation Sans" font-weight="700" font-size="5.8" fill="#000" text-anchor="start" stroke="#000" stroke-width="0.24" transform="translate(970.0 428.06) scale(1 1.1) translate(-970.0 -428.06)">Central Sub-Saharan Africa</text>
<circle cx="964.8" cy="431.84000000000003" r="0.95" fill="#988870"/>
<text x="970.0" y="434.34000000000003" font-family="Liberation Sans" font-weight="700" font-size="5.8" fill="#000" text-anchor="start" stroke="#000" stroke-width="0.24" transform="translate(970.0 434.34000000000003) scale(1 1.1) translate(-970.0 -434.34000000000003)">Eastern Sub-Saharan Africa</text>
<circle cx="964.8" cy="438.12" r="0.95" fill="#e8c8c8"/>
<text x="970.0" y="440.62" font-family="Liberation Sans" font-weight="700" font-size="5.8" fill="#000" text-anchor="start" stroke="#000" stroke-width="0.24" transform="translate(970.0 440.62) scale(1 1.1) translate(-970.0 -440.62)">Southern Sub-Saharan Africa</text>
<circle cx="964.8" cy="444.40000000000003" r="0.95" fill="#e0c8b8"/>
<text x="970.0" y="446.90000000000003" font-family="Liberation Sans" font-weight="700" font-size="5.8" fill="#000" text-anchor="start" stroke="#000" stroke-width="0.24" transform="translate(970.0 446.90000000000003) scale(1 1.1) translate(-970.0 -446.90000000000003)">Western Sub-Saharan Africa</text>
<g fill="#80784a" opacity="1"><circle cx="41.5" cy="35.6" r="0.7"/><circle cx="44.1" cy="38" r="0.7"/><circle cx="46.8" cy="39.7" r="0.7"/><circle cx="49.4" cy="41" r="0.7"/><circle cx="52" cy="42.1" r="0.7"/><circle cx="54.6" cy="42.8" r="0.7"/><circle cx="57.3" cy="43.2" r="0.7"/><circle cx="59.9" cy="43" r="0.7"/><circle cx="62.3" cy="41.5" r="0.7"/><circle cx="64.4" cy="37.3" r="0.7"/><circle cx="66.7" cy="32.3" r="0.7"/><circle cx="69.1" cy="28.3" r="0.7"/><circle cx="71.7" cy="26.3" r="0.7"/><circle cx="74.3" cy="28.3" r="0.7"/><circle cx="77.6" cy="32.1" r="0.7"/><circle cx="80.7" cy="36.6" r="0.7"/><circle cx="84" cy="40.6" r="0.7"/><circle cx="87.5" cy="42.6" r="0.7"/><circle cx="91" cy="42.9" r="0.7"/><circle cx="94.5" cy="43.2" r="0.7"/><circle cx="98" cy="43.5" r="0.7"/><circle cx="101.9" cy="43.8" r="0.7"/><circle cx="105.4" cy="44.3" r="0.7"/><circle cx="109.1" cy="45.8" r="0.7"/><circle cx="112.6" cy="49.3" r="0.7"/><circle cx="116.4" cy="53.3" r="0.7"/><circle cx="119" cy="56.3" r="0.7"/><circle cx="117.7" cy="59.4" r="0.7"/><circle cx="121.2" cy="62.9" r="0.7"/></g>
<g fill="#282414" opacity="1"><circle cx="56.3" cy="86.1" r="0.85"/><circle cx="57.3" cy="86.2" r="0.85"/><circle cx="58.4" cy="86.4" r="0.85"/><circle cx="59.5" cy="86.5" r="0.85"/><circle cx="60.5" cy="86.6" r="0.85"/><circle cx="61.5" cy="86.5" r="0.85"/><circle cx="62.5" cy="86.4" r="0.85"/><circle cx="65.2" cy="84" r="0.85"/><circle cx="66.2" cy="78.2" r="0.85"/><circle cx="67.8" cy="72" r="0.85"/><circle cx="68.8" cy="66.2" r="0.85"/><circle cx="70.4" cy="63.1" r="0.85"/><circle cx="72" cy="62" r="0.85"/><circle cx="75.1" cy="60.5" r="0.85"/><circle cx="77.2" cy="60.1" r="0.85"/><circle cx="80.3" cy="59.7" r="0.85"/><circle cx="84" cy="59.6" r="0.85"/><circle cx="87.6" cy="59.6" r="0.85"/><circle cx="91.8" cy="59.4" r="0.85"/><circle cx="97.1" cy="59.4" r="0.85"/><circle cx="101.8" cy="59.2" r="0.85"/><circle cx="106.5" cy="59.2" r="0.85"/><circle cx="111.7" cy="59.1" r="0.85"/><circle cx="116.9" cy="58.9" r="0.85"/><circle cx="122.1" cy="58.7" r="0.85"/><circle cx="127.4" cy="58.7" r="0.85"/><circle cx="132.1" cy="58.7" r="0.85"/><circle cx="137.3" cy="61.7" r="0.85"/><circle cx="141.5" cy="68" r="0.85"/><circle cx="145.4" cy="75.1" r="0.85"/><circle cx="148.8" cy="81.1" r="0.85"/><circle cx="146.7" cy="85.3" r="0.85"/><circle cx="149.9" cy="87.4" r="0.85"/></g>
<g fill="#e8c0d0" opacity="1"><circle cx="56.8" cy="74.3" r="1.0"/><circle cx="58.4" cy="70.4" r="1.0"/><circle cx="60.5" cy="66.7" r="1.0"/><circle cx="62.5" cy="63.6" r="1.0"/><circle cx="65.2" cy="62" r="1.0"/><circle cx="67.8" cy="62.3" r="1.0"/><circle cx="71.4" cy="64.6" r="1.0"/><circle cx="74" cy="66.2" r="1.0"/><circle cx="76.1" cy="68.6" r="1.0"/><circle cx="78.8" cy="72" r="1.0"/><circle cx="81.4" cy="77" r="1.0"/><circle cx="84" cy="82.9" r="1.0"/><circle cx="87.3" cy="88.5" r="1.0"/><circle cx="90.9" cy="92.7" r="1.0"/><circle cx="94.6" cy="96.4" r="1.0"/><circle cx="98.2" cy="100" r="1.0"/><circle cx="101.9" cy="103.7" r="1.0"/><circle cx="105.5" cy="106.7" r="1.0"/><circle cx="109.2" cy="109.2" r="1.0"/><circle cx="112.8" cy="111.4" r="1.0"/><circle cx="116.4" cy="113.4" r="1.0"/><circle cx="120.1" cy="116" r="1.0"/><circle cx="123.7" cy="118" r="1.0"/><circle cx="126.9" cy="119.8" r="1.0"/><circle cx="130.4" cy="121.5" r="1.0"/><circle cx="133.8" cy="123.1" r="1.0"/><circle cx="136.5" cy="125.1" r="1.0"/><circle cx="139" cy="126.9" r="1.0"/><circle cx="134.7" cy="129.2" r="1.0"/><circle cx="137.9" cy="130.1" r="1.0"/></g>
<g fill="#d8c888" opacity="1"><circle cx="168.2" cy="103.6" r="0.9"/><circle cx="170" cy="106.8" r="0.9"/><circle cx="172.3" cy="109.6" r="0.9"/><circle cx="174.3" cy="112.2" r="0.9"/><circle cx="176.4" cy="114.4" r="0.9"/><circle cx="178.9" cy="116" r="0.9"/><circle cx="181.4" cy="117.5" r="0.9"/><circle cx="184.2" cy="118.5" r="0.9"/><circle cx="186" cy="118.9" r="0.9"/><circle cx="187.8" cy="119.2" r="0.9"/><circle cx="190.6" cy="117.5" r="0.9"/><circle cx="192.6" cy="114.1" r="0.9"/><circle cx="194.8" cy="110.3" r="0.9"/><circle cx="196.7" cy="106.8" r="0.9"/><circle cx="198.8" cy="105" r="0.9"/><circle cx="201.3" cy="105.5" r="0.9"/><circle cx="203.8" cy="106.5" r="0.9"/><circle cx="206.3" cy="107.8" r="0.9"/><circle cx="209.2" cy="109.1" r="0.9"/><circle cx="212" cy="110.3" r="0.9"/><circle cx="214.9" cy="111.5" r="0.9"/><circle cx="217.7" cy="113" r="0.9"/><circle cx="220.6" cy="114.6" r="0.9"/><circle cx="223.4" cy="116.7" r="0.9"/><circle cx="226.3" cy="119.2" r="0.9"/></g>
<path d="M76.6,165.8 C78.6,165.0 84.2,162.0 88.6,161.2 C93.0,160.4 96.7,161.1 102.9,160.9 C109.1,160.7 120.1,160.1 126,160.1 C131.9,160.1 134.1,160.7 138.1,161.1 C142.1,161.5 147.3,162.2 150.2,162.6 C153.0,163.0 154.4,163.4 155.2,163.6" fill="none" stroke="#b8a8e0" stroke-width="2.1" stroke-linecap="round" stroke-linejoin="round" stroke-dasharray="0 3.1" opacity="1"/>
<path d="M112,158.1 C112.7,157.6 114.3,155.6 116,155 C117.7,154.4 120.7,155.0 122.1,154.5 C123.5,154.0 123.8,151.9 124.6,152 C125.3,152.1 126.1,154.1 126.6,155 C127.1,155.9 127.4,157.2 127.6,157.6" fill="none" stroke="#a8d080" stroke-width="0.9" stroke-linecap="round" stroke-linejoin="round" stroke-dasharray="0 1.2" opacity="1"/>
<path d="M123.1,167.6 C125.1,167.3 131.6,166.7 135.1,166.1 C138.6,165.5 141.2,165.0 144.1,164.1 C146.9,163.2 150.2,161.5 152.2,160.6 C154.2,159.7 154.7,159.3 156.2,158.6 C157.7,157.9 159.7,157.0 161.2,156.6 C162.7,156.2 163.8,155.8 165.2,156.1 C166.5,156.3 168.6,157.8 169.3,158.1" fill="none" stroke="#303020" stroke-width="1.4" stroke-linecap="round" stroke-linejoin="round" stroke-dasharray="0 3.8" opacity="1"/>
<path d="M141.1,175.1 C144.3,174.9 155.3,174.8 160.2,174.1 C165.1,173.4 167.0,171.6 170.3,171.1 C173.6,170.6 176.4,171.1 180,171.2 C183.6,171.3 187.2,172.0 192.1,171.7 C197.0,171.4 204.0,170.1 209.2,169.4 C214.4,168.7 219.7,168.5 223.5,167.7 C227.3,166.9 230.6,165.1 232,164.6" fill="none" stroke="#c89898" stroke-width="1.6" stroke-linecap="round" stroke-linejoin="round" stroke-dasharray="0 3.0" opacity="1"/>
<path d="M138.1,186 C140.8,186.5 149.5,188.5 154.2,189.2 C158.9,189.9 161.9,189.9 166.2,190.2 C170.5,190.5 174.2,190.9 180,191 C185.8,191.1 193.4,191.0 201.3,191 C209.2,191.0 223.1,191.0 227.4,191" fill="none" stroke="#e06868" stroke-width="1.6" stroke-linecap="round" stroke-linejoin="round" stroke-dasharray="0 3.5" opacity="1"/>
<path d="M156.2,187.2 C157.2,186.7 159.8,185.0 162.2,184.2 C164.5,183.4 167.3,182.4 170.3,182.2 C173.3,181.9 176.2,182.5 180,182.7 C183.8,182.9 190.2,183.7 192.8,183.3 C195.4,183.0 193.7,181.8 195.5,180.6 C197.3,179.4 201.3,176.4 203.7,176 C206.1,175.6 207.4,177.0 210.1,178.3 C212.8,179.6 217.7,182.3 220.1,183.8 C222.5,185.3 222.9,186.7 224.7,187.4 C226.5,188.1 230.0,187.8 231.1,187.9" fill="none" stroke="#203818" stroke-width="1.6" stroke-linecap="round" stroke-linejoin="round" stroke-dasharray="0 2.6" opacity="1"/>
<path d="M156.2,165.1 C156.5,165.3 155.4,166.4 158.2,166.6 C161.0,166.8 169.3,166.7 172.9,166.4 C176.5,166.1 177.3,165.3 180,164.6 C182.7,163.9 185.9,163.3 189.3,162 C192.8,160.7 198.1,157.5 200.7,156.8 C203.3,156.1 203.3,157.3 204.7,158 C206.1,158.7 207.0,159.8 209.2,160.8 C211.4,161.9 215.4,163.4 217.8,164.3 C220.2,165.2 221.3,166.4 223.5,166.5 C225.7,166.6 229.8,164.9 231.1,164.6" fill="none" stroke="#7080d0" stroke-width="1.5" stroke-linecap="round" stroke-linejoin="round" stroke-dasharray="0 2.4" opacity="1"/>
<path d="M180,165.6 C181.8,164.9 187.5,162.8 191,161.5 C194.5,160.2 197.0,158.2 201,157.6 C205.0,157.0 209.2,157.6 214.9,158 C220.6,158.4 231.1,160.0 235,160.3 C238.9,160.6 237.8,160.1 238.4,160" fill="none" stroke="#88b0d8" stroke-width="1.4" stroke-linecap="round" stroke-linejoin="round" stroke-dasharray="0 2.0" opacity="1"/>
<path d="M155.2,164.1 C156.0,164.8 158.4,167.3 160.2,168.6 C162.0,169.8 164.2,170.2 166.2,171.6 C168.2,173.0 170.3,175.6 172.3,177.1 C174.3,178.6 174.7,181.1 178.3,180.7 C181.9,180.3 190.1,176.4 193.7,174.6 C197.3,172.8 197.7,170.0 200,169.6 C202.3,169.2 205.0,171.2 207.4,172.4 C209.8,173.6 212.6,175.2 214.7,176.5 C216.8,177.8 218.4,179.5 220.1,180.1 C221.8,180.7 223.6,180.4 224.7,180.1 C225.8,179.8 226.3,177.8 226.5,178.3 C226.7,178.8 226.2,182.5 226.1,183.3" fill="none" stroke="#8080d8" stroke-width="1.6" stroke-linecap="round" stroke-linejoin="round" stroke-dasharray="0 2.4" opacity="1"/>
<path d="M187.3,195.6 C187.6,194.8 188.3,192.8 189.1,191 C189.9,189.2 188.8,185.4 191.9,184.7 C195.0,183.9 202.5,186.1 207.4,186.5 C212.3,186.9 217.2,187.1 221.1,187.4 C225.0,187.7 229.4,188.2 231.1,188.3" fill="none" stroke="#70b870" stroke-width="1.3" stroke-linecap="round" stroke-linejoin="round" stroke-dasharray="0 2.0" opacity="1"/>
<path d="M169.3,192.2 C171.1,192.6 177.2,194.1 180,194.7 C182.8,195.3 183.3,196.1 186,195.9 C188.7,195.8 193.6,194.8 196.4,193.8 C199.2,192.8 199.8,191.4 202.8,190.1 C205.9,188.8 211.3,186.7 214.7,186 C218.0,185.3 221.5,186.0 222.9,186" fill="none" stroke="#505058" stroke-width="1.3" stroke-linecap="round" stroke-linejoin="round" stroke-dasharray="0 1.8" opacity="1"/>
<path d="M201.9,173.3 C203.7,173.5 207.3,173.8 212.8,174.6 C218.3,175.3 231.0,177.3 234.7,177.8" fill="none" stroke="#607040" stroke-width="1.3" stroke-linecap="round" stroke-linejoin="round" stroke-dasharray="0 3.2" opacity="1"/>
<path d="M225.6,197.4 C226.5,196.3 228.0,192.5 231.1,191 C234.2,189.5 240.1,188.8 243.9,188.3 C247.8,187.9 251.3,188.8 254.2,188.3 C257.1,187.8 257.6,186.2 261,185.5 C264.4,184.8 270.1,184.3 274.7,184.2 C279.3,184.1 284.8,184.4 288.4,184.8 C292.0,185.2 295.2,186.6 296.6,186.9" fill="none" stroke="#c0c048" stroke-width="1.7" stroke-linecap="round" stroke-linejoin="round" stroke-dasharray="0 1.8" opacity="1"/>
<path d="M243.9,202.6 C245.4,202.3 250.6,202.3 252.8,200.6 C255.0,198.9 255.7,194.8 256.9,192.4 C258.0,190.0 257.9,187.3 259.7,186.2 C261.5,185.0 265.4,185.1 267.9,185.5 C270.4,185.9 271.3,187.8 274.7,188.9 C278.1,190.1 285.0,191.5 288.4,192.4 C291.8,193.3 294.1,194.1 295.2,194.4" fill="none" stroke="#30c0d8" stroke-width="1.6" stroke-linecap="round" stroke-linejoin="round" stroke-dasharray="0 2.2" opacity="1"/>
<path d="M275.2,190.1 C276.0,190.3 278.3,191.0 280,191.4 C281.7,191.8 283.5,192.3 285.2,192.6 C286.9,192.8 288.3,192.8 290,192.9 C291.7,193.0 293.5,192.8 295.2,193.1 C296.9,193.4 298.6,193.8 300.3,194.6 C302.0,195.3 303.5,197.0 305.3,197.6 C307.1,198.2 309.5,198.1 311.3,198.1 C313.1,198.1 314.3,198.0 316,197.8 C317.7,197.6 320.5,197.2 321.4,197.1" fill="none" stroke="#5a5a8c" stroke-width="2.6" stroke-linecap="round" stroke-linejoin="round" stroke-dasharray="0 1.3" opacity="1"/>
<path d="M199.5,222.1 C204.2,222.3 220.1,223.4 228,223.5 C235.9,223.6 242.6,222.8 247,222.6 C251.4,222.4 252.1,222.1 254.6,222.1 C257.1,222.1 259.8,222.5 262.2,222.6 C264.6,222.7 267.8,222.6 268.9,222.6" fill="none" stroke="#a0a0d8" stroke-width="1.4" stroke-linecap="round" stroke-linejoin="round" stroke-dasharray="0 2.0" opacity="1"/>
<path d="M271.7,221.2 C276.3,220.9 291.3,220.4 299.3,219.7 C307.3,218.9 316.5,217.2 319.9,216.7" fill="none" stroke="#e090d8" stroke-width="1.8" stroke-linecap="round" stroke-linejoin="round" stroke-dasharray="0 1.0" opacity="1"/>
<path d="M282.9,225.2 C286.1,224.8 294.8,223.9 302.1,223.1 C309.4,222.3 321.5,220.6 326.7,220.4 C331.9,220.2 332.4,221.6 333.5,221.8" fill="none" stroke="#f0b080" stroke-width="1.7" stroke-linecap="round" stroke-linejoin="round" stroke-dasharray="0 1.2" opacity="1"/>
<path d="M285.3,247.3 C288.3,246.9 299.6,245.3 303.3,244.6 C307.0,243.9 304.0,243.5 307.3,243.3 C310.6,243.1 319.8,243.7 323.2,243.3 C326.6,242.9 327.1,241.4 327.9,241" fill="none" stroke="#a0c040" stroke-width="1.5" stroke-linecap="round" stroke-linejoin="round" stroke-dasharray="0 1.8" opacity="1"/>
<g fill="#40b8d0" opacity="1"><circle cx="766.5" cy="27" r="0.9"/><circle cx="770.1" cy="28.5" r="0.9"/><circle cx="774.6" cy="30.5" r="0.9"/><circle cx="776.9" cy="33.1" r="0.9"/><circle cx="776.9" cy="36.1" r="0.9"/><circle cx="778.3" cy="39.1" r="0.9"/><circle cx="779.1" cy="44.1" r="0.9"/><circle cx="779.6" cy="51.9" r="0.9"/><circle cx="779.9" cy="59.7" r="0.9"/><circle cx="780.9" cy="66" r="0.9"/><circle cx="781.3" cy="69.2" r="0.9"/><circle cx="782.2" cy="69.5" r="0.9"/><circle cx="783.1" cy="69.7" r="0.9"/><circle cx="785.1" cy="69.7" r="0.9"/><circle cx="788.6" cy="69.2" r="0.9"/><circle cx="791.6" cy="68.4" r="0.9"/><circle cx="796.7" cy="63" r="0.9"/><circle cx="799.2" cy="58.7" r="0.9"/><circle cx="801.7" cy="54.6" r="0.9"/><circle cx="804.4" cy="52.3" r="0.9"/><circle cx="806.7" cy="50.1" r="0.9"/><circle cx="809.2" cy="48.1" r="0.9"/><circle cx="811.7" cy="46.3" r="0.9"/><circle cx="814.2" cy="44.6" r="0.9"/><circle cx="816.7" cy="42.6" r="0.9"/><circle cx="818.8" cy="40.1" r="0.9"/><circle cx="823.3" cy="38.1" r="0.9"/><circle cx="822.3" cy="41.6" r="0.9"/></g>
<path d="M748.5,50.3 C749.0,51.3 750.3,53.9 751.6,56.1 C752.9,58.3 755.2,61.8 756.5,63.4 C757.8,65.0 758.4,65.2 759.5,65.7 C760.6,66.2 761.9,66.4 763,66.4 C764.1,66.5 764.8,66.4 766,66 C767.2,65.6 768.8,64.7 770.1,64.2 C771.4,63.7 772.5,63.3 773.6,63 C774.7,62.7 775.5,62.2 776.6,62.2 C777.7,62.2 778.9,62.4 780.1,62.7 C781.4,63.0 782.8,63.6 784.1,64 C785.4,64.4 786.8,64.9 788.1,65.2 C789.4,65.5 790.8,65.8 792.1,66 C793.5,66.2 794.8,66.5 796.2,66.7 C797.6,66.9 799.2,67.6 800.7,67.4 C802.2,67.2 803.8,66.5 805.2,65.7 C806.6,64.9 807.7,63.5 809.2,62.7 C810.7,61.9 812.6,61.2 814.2,60.7 C815.8,60.2 817.9,60.1 818.8,59.7 C819.7,59.3 819.4,58.7 819.5,58.5" fill="none" stroke="#b8b840" stroke-width="1.6" stroke-linecap="round" stroke-linejoin="round" stroke-dasharray="0 2.0" opacity="1"/>
<g fill="#5a5a8c" opacity="1"><circle cx="799.3" cy="109.9" r="1.1"/><circle cx="801.2" cy="108" r="1.1"/><circle cx="803" cy="106" r="1.1"/><circle cx="805.5" cy="104.2" r="1.1"/><circle cx="808" cy="102.5" r="1.1"/><circle cx="810.4" cy="101.2" r="1.1"/><circle cx="812.8" cy="100" r="1.1"/><circle cx="815.2" cy="99.4" r="1.1"/><circle cx="817.7" cy="98.8" r="1.1"/></g>
<path d="M817.7,98.8 C818.1,98.0 819.4,95.5 820.2,94 C821.0,92.5 821.8,91.2 822.6,90 C823.4,88.8 824.0,87.5 825,86.5 C826.0,85.5 827.2,84.8 828.5,84 C829.8,83.2 831.1,82.5 832.5,82 C833.9,81.5 835.4,81.4 837,81.3 C838.6,81.2 841.2,81.3 842.4,81.5 C843.6,81.7 844.0,82.5 844.3,82.7" fill="none" stroke="#5a5a8c" stroke-width="2.4" stroke-linecap="round" stroke-linejoin="round" stroke-dasharray="0 1.6" opacity="1"/>
<g fill="#f0b080" opacity="1"><circle cx="806.3" cy="116.8" r="0.9"/><circle cx="808.5" cy="118.5" r="0.9"/><circle cx="811" cy="120.2" r="0.9"/><circle cx="813.5" cy="121.6" r="0.9"/><circle cx="815.1" cy="122.6" r="0.9"/></g>
<path d="M815.1,122.6 C816.2,123.0 819.6,124.2 822,124.8 C824.4,125.4 827.7,126.2 829.7,126.3 C831.7,126.4 832.5,125.8 834,125.5 C835.5,125.2 836.2,125.0 838.4,124.8 C840.6,124.6 844.1,124.6 847,124.6 C849.9,124.6 854.5,124.8 856,124.8" fill="none" stroke="#f0b080" stroke-width="2.0" stroke-linecap="round" stroke-linejoin="round" stroke-dasharray="0 1.2" opacity="1"/>
<path d="M794.6,139.8 C796.8,139.7 803.6,139.6 808,139.4 C812.4,139.2 817.4,138.7 820.9,138.7 C824.4,138.7 826.6,139.0 829,139.4 C831.4,139.8 833.7,140.3 835.5,140.9 C837.3,141.5 838.8,142.2 840,143 C841.2,143.8 842.3,145.5 842.8,146" fill="none" stroke="#e090d8" stroke-width="2.0" stroke-linecap="round" stroke-linejoin="round" stroke-dasharray="0 1.0" opacity="1"/>
<g fill="#8080c8" opacity="1"><circle cx="677.4" cy="128.7" r="1.0"/><circle cx="679.9" cy="123.1" r="1.0"/><circle cx="682" cy="117.6" r="1.0"/><circle cx="684.8" cy="112.5" r="1.0"/><circle cx="687.5" cy="107.8" r="1.0"/><circle cx="689.9" cy="103.6" r="1.0"/><circle cx="692.2" cy="99" r="1.0"/><circle cx="694.9" cy="94" r="1.0"/><circle cx="697.1" cy="89.6" r="1.0"/><circle cx="699.4" cy="86.1" r="1.0"/><circle cx="701.6" cy="84.9" r="1.0"/><circle cx="703.7" cy="85.7" r="1.0"/><circle cx="706" cy="87.7" r="1.0"/><circle cx="707.7" cy="90" r="1.0"/><circle cx="709.2" cy="92.8" r="1.0"/><circle cx="711.4" cy="94.9" r="1.0"/><circle cx="713.7" cy="97.9" r="1.0"/><circle cx="715.8" cy="103.1" r="1.0"/><circle cx="718.8" cy="109" r="1.0"/><circle cx="720.5" cy="113.3" r="1.0"/><circle cx="722.7" cy="115.2" r="1.0"/><circle cx="725.2" cy="113.5" r="1.0"/><circle cx="727.4" cy="109.7" r="1.0"/><circle cx="729.6" cy="104.8" r="1.0"/><circle cx="731.9" cy="100.2" r="1.0"/><circle cx="734.3" cy="96.2" r="1.0"/><circle cx="736.5" cy="92.6" r="1.0"/><circle cx="738.2" cy="87.9" r="1.0"/><circle cx="741" cy="83.7" r="1.0"/><circle cx="742.1" cy="82.4" r="1.0"/><circle cx="747.1" cy="86.9" r="1.0"/><circle cx="748.8" cy="89.3" r="1.0"/></g>
<path d="M707.5,114 C707.8,114.2 708.9,114.8 709.5,115.5 C710.1,116.2 710.5,117.1 710.9,117.9 C711.3,118.7 711.7,119.5 711.9,120.4 C712.1,121.3 711.8,122.4 711.9,123.5 C712.0,124.6 711.9,125.6 712.4,126.8 C712.9,128.0 713.9,130.3 714.9,130.7 C715.9,131.1 717.1,129.8 718.3,129.2 C719.5,128.5 720.4,127.3 722.2,126.8 C724.0,126.3 726.6,127.0 729.1,126.1 C731.6,125.2 734.4,122.6 737,121.3 C739.6,120.0 742.4,119.0 744.9,118.2 C747.4,117.5 749.6,117.0 752,116.8 C754.4,116.6 757.3,116.7 759.4,117.1 C761.5,117.5 763.6,118.8 764.5,119.1" fill="none" stroke="#60a860" stroke-width="1.4" stroke-linecap="round" stroke-linejoin="round" stroke-dasharray="0 2.6" opacity="1"/>
<path d="M693.2,142.8 C694.1,142.2 695.8,139.6 698.3,138.9 C700.8,138.2 705.3,138.6 708.5,138.9 C711.7,139.2 714.9,139.8 717.5,140.9 C720.1,142.0 722.2,143.3 723.9,145.3 C725.6,147.3 726.4,150.9 727.7,153 C729.0,155.1 730.0,156.7 731.5,158.1 C733.0,159.5 734.7,160.2 736.6,161.3 C738.5,162.4 741.9,164.0 743,164.5" fill="none" stroke="#505058" stroke-width="1.3" stroke-linecap="round" stroke-linejoin="round" stroke-dasharray="0 3.0" opacity="1"/>
<path d="M678.5,137.7 C681.0,138.5 688.8,141.1 693.2,142.8 C697.6,144.5 701.3,146.1 704.7,147.9 C708.1,149.7 711.7,152.0 713.6,153.6 C715.5,155.2 715.1,155.8 716.2,157.5 C717.3,159.2 718.7,162.2 720,163.8 C721.3,165.4 722.0,167.3 723.9,167 C725.8,166.7 729.4,163.8 731.5,161.9 C733.6,160.0 734.9,158.1 736.6,155.5 C738.3,152.9 740.3,148.7 741.7,146.6 C743.1,144.5 744.4,143.4 744.9,142.8" fill="none" stroke="#7070b8" stroke-width="1.4" stroke-linecap="round" stroke-linejoin="round" stroke-dasharray="0 2.6" opacity="1"/>
<path d="M677.9,155.5 C679.2,156.4 682.1,159.3 685.5,160.7 C688.9,162.1 694.9,163.6 698.3,163.8 C701.7,164.0 703.6,162.5 706,161.9 C708.4,161.3 710.9,159.8 712.4,160 C713.9,160.2 713.8,161.8 714.9,163.2 C716.0,164.6 717.9,166.5 718.7,168.3 C719.6,170.1 719.1,172.3 720,174.1 C720.9,175.9 722.4,178.3 723.9,179.2 C725.4,180.0 727.5,179.7 729,179.2 C730.5,178.7 731.3,177.8 732.8,176 C734.3,174.2 736.4,171.1 737.9,168.3 C739.4,165.5 740.5,162.1 741.7,159.4 C742.9,156.7 743.8,154.9 744.9,152.3 C746.0,149.7 746.7,144.8 748.1,144 C749.5,143.2 752.4,146.7 753.2,147.2" fill="none" stroke="#303820" stroke-width="1.4" stroke-linecap="round" stroke-linejoin="round" stroke-dasharray="0 3.6" opacity="1"/>
<path d="M689.4,176 C690.9,174.3 694.7,168.4 698.3,165.8 C701.9,163.2 706.8,160.7 711.1,160.7 C715.4,160.7 720.5,164.5 723.9,165.8 C727.3,167.1 729.0,167.7 731.5,168.3 C734.0,168.9 736.4,169.8 739.2,169.6 C742.0,169.4 746.4,167.8 748.1,167 C749.8,166.2 749.2,164.9 749.4,164.5" fill="none" stroke="#e8dcb8" stroke-width="1.4" stroke-linecap="round" stroke-linejoin="round" stroke-dasharray="0 2.0" opacity="1"/>
<path d="M716.4,165 C718.1,164.5 722.6,163.3 726.4,162 C730.2,160.7 735.8,158.5 739.2,157.4 C742.6,156.3 744.0,155.3 747,155.3 C750.0,155.3 753.9,156.9 757,157.5 C760.1,158.1 763.2,158.7 765.7,158.6 C768.2,158.5 769.0,157.1 772.3,157 C775.6,156.9 783.2,157.8 785.4,158" fill="none" stroke="#a8a8e0" stroke-width="1.6" stroke-linecap="round" stroke-linejoin="round" stroke-dasharray="0 3.0" opacity="1"/>
<path d="M659.7,185.1 C661.9,184.8 668.3,184.2 672.6,183.5 C676.9,182.8 679.1,182.3 685.5,181.1 C691.9,179.8 704.9,177.3 711.1,176 C717.3,174.7 716.7,174.3 722.8,173.1 C728.9,171.9 739.3,169.9 747.5,169 C755.7,168.1 766.1,167.8 772.1,167.9 C778.1,168.1 781.0,169.2 783.6,169.9 C786.2,170.6 787.0,171.9 787.7,172.3" fill="none" stroke="#e06868" stroke-width="1.3" stroke-linecap="round" stroke-linejoin="round" stroke-dasharray="0 4.0" opacity="1"/>
<path d="M694.9,187.9 C697.4,187.6 705.1,186.9 709.7,186.3 C714.4,185.7 717.9,184.2 722.8,184.3 C727.7,184.4 733.0,186.1 739.3,187.1 C745.6,188.1 757.0,189.8 760.6,190.4" fill="none" stroke="#80b0e0" stroke-width="1.5" stroke-linecap="round" stroke-linejoin="round" stroke-dasharray="0 1.6" opacity="1"/>
<path d="M664.1,216.3 C665.6,215.6 669.6,213.6 673,211.8 C676.4,210.0 681.3,207.7 684.5,205.4 C687.7,203.1 689.9,200.1 692.2,197.8 C694.6,195.5 695.7,193.2 698.6,191.4 C701.5,189.6 705.7,187.1 709.7,187.1 C713.7,187.1 717.9,189.4 722.8,191.2 C727.7,193.0 734.4,195.2 739.3,197.8 C744.2,200.4 749.4,205.3 752.4,206.8 C755.4,208.3 756.5,206.8 757.3,206.8" fill="none" stroke="#b89090" stroke-width="1.4" stroke-linecap="round" stroke-linejoin="round" stroke-dasharray="0 3.2" opacity="1"/>
<path d="M719.6,179.7 C721.0,179.7 725.3,180.9 727.8,179.7 C730.2,178.5 733.2,173.5 734.3,172.3" fill="none" stroke="#303020" stroke-width="1.3" stroke-linecap="round" stroke-linejoin="round" stroke-dasharray="0 4" opacity="1"/>
<path d="M729.4,192.8 C731.2,193.5 736.2,195.0 740,197 C743.8,199.0 750.0,203.7 752,205" fill="none" stroke="#303020" stroke-width="1.3" stroke-linecap="round" stroke-linejoin="round" stroke-dasharray="0 4" opacity="1"/>
<g fill="#706830" opacity="1"><circle cx="562.7" cy="185.7" r="0.75"/><circle cx="564.6" cy="182.1" r="0.75"/><circle cx="565.9" cy="178.3" r="0.75"/><circle cx="567.6" cy="175" r="0.75"/><circle cx="569.2" cy="172.3" r="0.75"/><circle cx="571.4" cy="169.8" r="0.75"/><circle cx="573.1" cy="167.9" r="0.75"/><circle cx="574.7" cy="166.3" r="0.75"/><circle cx="576.9" cy="163.9" r="0.75"/><circle cx="578" cy="163.3" r="0.75"/><circle cx="579.1" cy="162.8" r="0.75"/><circle cx="580.2" cy="162.5" r="0.75"/><circle cx="581.3" cy="162.4" r="0.75"/><circle cx="582.4" cy="162.7" r="0.75"/><circle cx="583.4" cy="163.2" r="0.75"/><circle cx="584.3" cy="163.6" r="0.75"/><circle cx="585.1" cy="164.1" r="0.75"/><circle cx="586.2" cy="168.4" r="0.75"/><circle cx="585.9" cy="171.2" r="0.75"/><circle cx="587.6" cy="178.3" r="0.75"/><circle cx="590" cy="186.5" r="0.75"/><circle cx="588.9" cy="189.2" r="0.75"/><circle cx="592.7" cy="190.5" r="0.75"/><circle cx="595.7" cy="190.9" r="0.75"/><circle cx="598.8" cy="189.2" r="0.75"/><circle cx="602.3" cy="187.6" r="0.75"/><circle cx="605.5" cy="186" r="0.75"/><circle cx="608.8" cy="186" r="0.75"/><circle cx="612.4" cy="187.6" r="0.75"/><circle cx="615.7" cy="190.5" r="0.75"/><circle cx="618.5" cy="193.1" r="0.75"/><circle cx="621" cy="195.5" r="0.75"/></g>
<path d="M605.6,179 C606.1,177.5 607.2,172.5 608.4,170.1 C609.5,167.7 610.7,166.9 612.5,164.6 C614.3,162.3 617.0,158.7 619.3,156.4 C621.6,154.1 624.0,151.9 626.1,150.9 C628.2,149.9 629.6,150.0 631.6,150.3 C633.6,150.7 636.1,151.9 638.4,153 C640.7,154.1 643.2,156.2 645.3,157.1 C647.4,158.0 648.3,158.4 650.8,158.5 C653.3,158.6 658.9,157.6 660.3,157.8 C661.7,158.0 659.2,159.5 659,159.8" fill="none" stroke="#f0b8c8" stroke-width="1.4" stroke-linecap="round" stroke-linejoin="round" stroke-dasharray="0 3.4" opacity="1"/>
<path d="M577.4,193.1 C578.2,193.2 580.5,193.4 582,193.6 C583.5,193.8 585.4,193.9 586.7,194.2 C588.0,194.5 588.9,194.8 590,195.2 C591.1,195.5 591.9,195.8 593.3,196.3 C594.7,196.8 597.4,197.7 598.2,198" fill="none" stroke="#e8a0b0" stroke-width="1.2" stroke-linecap="round" stroke-linejoin="round" stroke-dasharray="0 1.2" opacity="1"/>
<g fill="#282414" opacity="1"><circle cx="590.3" cy="198.7" r="0.8"/><circle cx="591.5" cy="202.5" r="0.8"/><circle cx="593.9" cy="201.9" r="0.8"/><circle cx="596.3" cy="200.8" r="0.8"/><circle cx="598.6" cy="199.2" r="0.8"/><circle cx="601.6" cy="197.8" r="0.8"/><circle cx="605.4" cy="197.2" r="0.8"/><circle cx="609.3" cy="197.8" r="0.8"/><circle cx="613.7" cy="198.4" r="0.8"/><circle cx="618.8" cy="199" r="0.8"/><circle cx="623.2" cy="199.9" r="0.8"/><circle cx="627.9" cy="201.4" r="0.8"/><circle cx="633.4" cy="202.8" r="0.8"/><circle cx="638.4" cy="204.9" r="0.8"/><circle cx="644" cy="207.3" r="0.8"/><circle cx="649.1" cy="210.2" r="0.8"/><circle cx="654.1" cy="213.6" r="0.8"/><circle cx="659.1" cy="217" r="0.8"/><circle cx="663.1" cy="221.5" r="0.8"/><circle cx="667.4" cy="226.9" r="0.8"/><circle cx="670.6" cy="231" r="0.8"/><circle cx="669" cy="235.2" r="0.8"/><circle cx="671.6" cy="238.1" r="0.8"/></g>
<g fill="#707a48" opacity="1"><circle cx="644.9" cy="199" r="0.85"/><circle cx="649.1" cy="197" r="0.85"/><circle cx="653.2" cy="195.4" r="0.85"/><circle cx="657.4" cy="194.5" r="0.85"/><circle cx="661.5" cy="194.2" r="0.85"/><circle cx="666.3" cy="194.5" r="0.85"/><circle cx="670.2" cy="195.4" r="0.85"/><circle cx="674.2" cy="197.6" r="0.85"/><circle cx="678.7" cy="200.2" r="0.85"/><circle cx="682.5" cy="202.2" r="0.85"/><circle cx="685.8" cy="204.2" r="0.85"/></g>
<path d="M631.9,211.4 L632.4,215.6 L635.4,222.1 L640.8,223.9 L643.7,225.1 L646.1,228.6 L647.9,225.1 L649.1,218 L653.8,212.6 L658.5,214.4 L663.9,216.8" fill="none" stroke="#b8d8a0" stroke-width="0.9" stroke-linecap="round" stroke-linejoin="round" stroke-dasharray="0 1.2" opacity="1"/>
<g fill="#d8cca0" opacity="1"><circle cx="589.2" cy="189.5" r="0.8"/><circle cx="593.3" cy="190.4" r="0.8"/><circle cx="596.3" cy="190.7" r="0.8"/><circle cx="599.2" cy="189.5" r="0.8"/><circle cx="602.8" cy="187.7" r="0.8"/><circle cx="605.8" cy="186.2" r="0.8"/><circle cx="609.3" cy="185.9" r="0.8"/><circle cx="612.5" cy="187.7" r="0.8"/><circle cx="616.1" cy="190.7" r="0.8"/><circle cx="619.4" cy="194.8" r="0.8"/><circle cx="622.5" cy="198.2" r="0.8"/><circle cx="626.5" cy="201.8" r="0.8"/><circle cx="630.7" cy="205.5" r="0.8"/><circle cx="634.2" cy="209.1" r="0.8"/><circle cx="637.8" cy="212" r="0.8"/><circle cx="640.2" cy="213.8" r="0.8"/><circle cx="643.1" cy="215.6" r="0.8"/></g>
<path d="M598.2,245.2 C600.0,245.4 604.6,246.7 609.2,246.3 C613.8,246.0 619.8,243.5 625.8,243.1 C631.8,242.7 638.1,244.2 644.9,243.8 C651.7,243.4 657.5,241.4 666.7,240.6 C675.9,239.8 692.6,239.0 700,238.7 C707.4,238.3 709.4,238.5 711.3,238.5" fill="none" stroke="#b0a0e0" stroke-width="1.8" stroke-linecap="round" stroke-linejoin="round" stroke-dasharray="0 3.2" opacity="1"/>
<path d="M808.3,215.7 C809.6,216.4 813.9,219.5 816,219.7 C818.1,219.9 819.8,217.2 821.1,217.1 C822.4,216.9 822.9,217.6 824,218.8 C825.1,220.0 826.3,223.7 828,224.5 C829.7,225.3 831.5,224.1 834.2,223.4 C837.0,222.7 841.8,220.4 844.5,220.5 C847.2,220.6 849.2,223.6 850.2,224.2" fill="none" stroke="#a0c040" stroke-width="1.5" stroke-linecap="round" stroke-linejoin="round" stroke-dasharray="0 1.8" opacity="1"/>
<g fill="#6a6a40" opacity="1"><circle cx="125.4" cy="300.7" r="0.8"/><circle cx="129.5" cy="312.5" r="0.8"/><circle cx="133.7" cy="323.2" r="0.8"/><circle cx="138" cy="333.9" r="0.8"/><circle cx="142" cy="343.9" r="0.8"/><circle cx="146.1" cy="351.2" r="0.8"/><circle cx="150.3" cy="360.7" r="0.8"/><circle cx="154.4" cy="367.8" r="0.8"/><circle cx="158.6" cy="373.5" r="0.8"/><circle cx="162.7" cy="378.5" r="0.8"/><circle cx="167" cy="383.7" r="0.8"/><circle cx="171.2" cy="389.2" r="0.8"/><circle cx="175.3" cy="393.2" r="0.8"/><circle cx="178.8" cy="398" r="0.8"/><circle cx="182.7" cy="403.2" r="0.8"/><circle cx="186.8" cy="408.3" r="0.8"/><circle cx="191.3" cy="412.8" r="0.8"/><circle cx="195.1" cy="414.3" r="0.8"/><circle cx="199.6" cy="415.3" r="0.8"/><circle cx="203.5" cy="416" r="0.8"/><circle cx="207.3" cy="417.2" r="0.8"/><circle cx="210.9" cy="421.1" r="0.8"/><circle cx="214.3" cy="425.5" r="0.8"/><circle cx="217.9" cy="428.7" r="0.8"/><circle cx="221.1" cy="434.5" r="0.8"/><circle cx="224.2" cy="439" r="0.8"/><circle cx="227.4" cy="444.7" r="0.8"/><circle cx="230.3" cy="448.3" r="0.8"/><circle cx="233.5" cy="451.7" r="0.8"/><circle cx="236.4" cy="454.9" r="0.8"/><circle cx="232.8" cy="462" r="0.8"/><circle cx="235.6" cy="465.8" r="0.8"/></g>
<path d="M172.1,408.7 C172.4,409.4 173.2,411.6 174,412.8 C174.8,414.0 175.5,414.4 176.6,416 C177.7,417.6 179.2,420.6 180.4,422.4 C181.6,424.2 182.1,425.6 183.6,426.8 C185.1,428.0 187.6,428.5 189.4,429.6 C191.2,430.7 193.0,432.1 194.5,433.2 C196.0,434.3 197.0,435.2 198.3,436.4 C199.6,437.6 200.9,438.7 202.2,440.2 C203.5,441.7 204.7,444.0 206,445.4 C207.3,446.8 208.1,448.1 209.8,448.5 C211.5,448.9 214.1,447.7 216.2,447.9 C218.3,448.1 220.9,449.4 222.6,449.8 C224.3,450.2 225.8,450.4 226.5,450.5" fill="none" stroke="#505058" stroke-width="1.4" stroke-linecap="round" stroke-linejoin="round" stroke-dasharray="0 2.6" opacity="1"/>
<path d="M202.6,454.2 C203.5,454.9 205.9,457.3 208.1,458.6 C210.3,459.9 214.0,460.5 215.7,461.9 C217.4,463.3 217.7,464.4 218.5,466.8 C219.3,469.2 219.9,474.0 220.6,476.1 C221.3,478.2 222.1,478.1 222.8,479.4 C223.5,480.7 224.0,482.8 225,483.8 C226.0,484.8 227.5,484.6 228.9,485.5 C230.3,486.4 232.0,487.9 233.3,489.3 C234.6,490.7 235.2,492.6 236.5,493.7 C237.8,494.8 240.2,495.5 240.9,495.9" fill="none" stroke="#9898d8" stroke-width="1.6" stroke-linecap="round" stroke-linejoin="round" stroke-dasharray="0 4.0" opacity="1"/>
<path d="M44.1,484.5 C46.4,485.4 52.7,487.9 57.8,489.7 C62.9,491.5 69.2,493.9 74.9,495.4 C80.6,496.9 84.4,497.4 92,498.8 C99.6,500.2 115.2,502.8 120.5,503.9 C125.8,505.0 123.4,505.3 124,505.6" fill="none" stroke="#b08a28" stroke-width="1.3" stroke-linecap="round" stroke-linejoin="round" stroke-dasharray="0 1.6" opacity="1"/>
<g fill="#282414" opacity="1"><circle cx="60.1" cy="490.8" r="0.8"/><circle cx="62.1" cy="491.5" r="0.8"/><circle cx="64.2" cy="492.2" r="0.8"/><circle cx="66.3" cy="492.9" r="0.8"/><circle cx="68.4" cy="493.6" r="0.8"/><circle cx="70.5" cy="494.3" r="0.8"/><circle cx="72.7" cy="495.1" r="0.8"/><circle cx="74.9" cy="495.9" r="0.8"/><circle cx="77.8" cy="496.3" r="0.8"/><circle cx="81.8" cy="497.1" r="0.8"/><circle cx="85.8" cy="497.9" r="0.8"/><circle cx="89.8" cy="498.6" r="0.8"/><circle cx="94.3" cy="499.4" r="0.8"/><circle cx="98.9" cy="500.2" r="0.8"/><circle cx="103.4" cy="500.7" r="0.8"/><circle cx="108" cy="501.3" r="0.8"/><circle cx="113.7" cy="502.2" r="0.8"/><circle cx="119.4" cy="503.1" r="0.8"/><circle cx="124" cy="503.9" r="0.8"/><circle cx="129.7" cy="503.9" r="0.8"/><circle cx="134.2" cy="504.7" r="0.8"/><circle cx="138.8" cy="505.6" r="0.8"/><circle cx="143.4" cy="507" r="0.8"/><circle cx="147.9" cy="508.5" r="0.8"/><circle cx="150.2" cy="509.6" r="0.8"/><circle cx="151.9" cy="511.1" r="0.8"/></g>
<path d="M79.5,468.6 C81.6,469.2 87.1,470.6 92,472 C96.9,473.4 103.8,475.6 109.1,477.1 C114.4,478.6 120.2,480.2 124,481.1 C127.8,482.1 127.8,482.2 132,482.8 C136.2,483.4 145.3,484.2 149.1,484.5 C152.9,484.8 152.8,484.5 155,484.5 C157.2,484.5 159.7,484.3 162,484.4 C164.3,484.5 166.0,484.3 168.6,484.9 C171.2,485.5 174.8,487.5 177.4,488.2 C180.0,488.9 182.2,488.4 184,489.3 C185.8,490.2 187.0,492.7 188.3,493.7 C189.6,494.7 191.1,495.0 191.6,495.3" fill="none" stroke="#b0a0e0" stroke-width="1.8" stroke-linecap="round" stroke-linejoin="round" stroke-dasharray="0 3.0" opacity="1"/>
<path d="M111.4,484 C112.9,484.0 117.8,485.0 120.5,484.2 C123.2,483.4 125.1,479.8 127.4,479.4 C129.7,479.0 132.1,480.9 134.2,481.7 C136.3,482.5 138.9,483.6 139.9,484" fill="none" stroke="#c0d8a0" stroke-width="0.9" stroke-linecap="round" stroke-linejoin="round" stroke-dasharray="0 1.2" opacity="1"/>
<path d="M60.1,489.1 C61.6,489.2 65.8,490.0 69.2,489.7 C72.6,489.4 75.8,487.4 80.6,487.4 C85.3,487.4 92.0,488.9 97.7,489.7 C103.4,490.4 109.1,491.4 114.8,491.9 C120.5,492.4 128.2,492.1 132,492.5 C135.8,492.9 136.2,493.5 137.7,494.2 C139.2,494.9 140.9,495.7 141.1,496.5 C141.3,497.3 139.2,498.4 138.8,498.8" fill="none" stroke="#f0b8c8" stroke-width="1.5" stroke-linecap="round" stroke-linejoin="round" stroke-dasharray="0 3.2" opacity="1"/>
<path d="M142.5,502.3 C144.6,502.4 151.8,502.5 155,502.6 C158.2,502.7 158.0,502.6 162,502.9 C166.0,503.1 174.7,503.9 179,504.1 C183.3,504.4 184.6,504.1 188.1,504.4 C191.6,504.7 196.3,505.4 200,505.8 C203.7,506.2 206.9,506.6 210,507 C213.1,507.4 217.1,508.2 218.5,508.4" fill="none" stroke="#a09898" stroke-width="1.5" stroke-linecap="round" stroke-linejoin="round" stroke-dasharray="0 2.6" opacity="1"/>
<path d="M159.2,455.3 C159.8,456.2 160.2,458.9 162.8,460.7 C165.4,462.5 170.8,464.3 174.7,466 C178.6,467.7 182.6,469.0 186.5,470.8 C190.4,472.6 194.5,474.6 198.4,476.7 C202.3,478.8 206.2,480.9 210.2,483.2 C214.1,485.5 218.1,488.1 222.1,490.3 C226.1,492.5 230.4,494.7 234,496.3 C237.6,497.9 241.9,499.2 243.5,499.8" fill="none" stroke="#7070c8" stroke-width="1.5" stroke-linecap="round" stroke-linejoin="round" stroke-dasharray="0 2.2" opacity="1"/>
<path d="M178.2,466.6 C180.6,468.0 187.1,471.9 192.4,474.9 C197.7,477.9 204.3,481.2 210.2,484.4 C216.1,487.6 222.4,491.5 228,493.9 C233.6,496.3 240.9,497.8 243.5,498.6" fill="none" stroke="#80b0e0" stroke-width="1.3" stroke-linecap="round" stroke-linejoin="round" stroke-dasharray="0 1.6" opacity="1"/>
<path d="M158.2,475 C159.6,474.6 163.9,472.3 166.4,472.3 C168.9,472.3 170.9,474.7 173,475 C175.1,475.3 177.3,474.8 179,474 C180.7,473.2 181.5,470.5 182.9,470.1 C184.3,469.7 184.8,472.0 187.2,471.8 C189.6,471.6 194.2,468.4 197.1,469 C200.0,469.6 202.4,473.3 204.8,475.6 C207.2,477.9 209.3,480.6 211.3,482.7 C213.3,484.8 215.0,486.4 216.8,488.2 C218.6,490.0 220.7,492.1 222.3,493.7 C224.0,495.3 224.9,496.3 226.7,498 C228.4,499.7 231.8,503.0 232.8,504" fill="none" stroke="#203818" stroke-width="1.5" stroke-linecap="round" stroke-linejoin="round" stroke-dasharray="0 3.2" opacity="1"/>
<path d="M140,474.3 C141.9,474.7 148.8,475.9 151.6,476.7 C154.4,477.5 155.0,478.1 156.6,478.9 C158.2,479.7 157.7,479.6 161,481.4 C164.3,483.2 172.3,487.8 176.3,489.8 C180.3,491.9 181.8,492.4 185.1,493.7 C188.4,495.0 192.7,496.9 196,497.5 C199.3,498.1 201.2,497.7 204.8,497.5 C208.5,497.3 214.2,496.4 217.9,496.4 C221.6,496.4 223.4,496.5 226.7,497.5 C230.0,498.5 234.7,500.6 237.5,502.2 C240.3,503.8 241.4,505.9 243.5,506.9 C245.6,507.9 248.9,507.9 250,508.1" fill="none" stroke="#e06868" stroke-width="1.4" stroke-linecap="round" stroke-linejoin="round" stroke-dasharray="0 3.8" opacity="1"/>
<path d="M235,495.1 C236.1,495.6 238.4,496.3 241.8,497.9 C245.2,499.5 252.1,502.9 255.5,504.7 C258.9,506.5 259.9,507.6 262.4,508.8 C264.9,510.0 269.2,511.1 270.6,511.6" fill="none" stroke="#a0a0e0" stroke-width="1.5" stroke-linecap="round" stroke-linejoin="round" stroke-dasharray="0 3.4" opacity="1"/>
<path d="M156.9,496.9 C159.5,496.7 168.4,495.4 172.3,495.7 C176.2,496.0 177.2,497.3 180.6,498.6 C183.9,499.9 188.4,502.2 192.4,503.4 C196.4,504.6 200.3,504.5 204.3,505.8 C208.3,507.1 212.2,509.7 216.2,511.1 C220.1,512.5 226.0,513.6 228,514.1" fill="none" stroke="#5060c0" stroke-width="1.4" stroke-linecap="round" stroke-linejoin="round" stroke-dasharray="0 2.0" opacity="1"/>
<path d="M188.5,504.7 C191.7,505.2 202.9,507.0 207.5,507.6 C212.1,508.2 212.2,507.6 216.2,508.1 C220.2,508.6 226.7,509.6 231.3,510.4 C235.9,511.2 241.6,512.4 243.7,512.8" fill="none" stroke="#709050" stroke-width="1.4" stroke-linecap="round" stroke-linejoin="round" stroke-dasharray="0 2.0" opacity="1"/>
<path d="M169.5,514.2 C171.9,514.7 177.5,516.7 183.8,517.1 C190.1,517.5 200.4,516.8 207.5,516.6 C214.6,516.4 223.3,516.2 226.5,516.1" fill="none" stroke="#f0d8a8" stroke-width="1.4" stroke-linecap="round" stroke-linejoin="round" stroke-dasharray="0 1.4" opacity="1"/>
<path d="M226.5,515.2 C232.5,515.5 250.5,516.2 262.4,517 C274.3,517.8 292.0,519.3 297.9,519.8" fill="none" stroke="#d8d870" stroke-width="1.4" stroke-linecap="round" stroke-linejoin="round" stroke-dasharray="0 1.2" opacity="1"/>
<g fill="#f0a870" opacity="1"><circle cx="283.9" cy="471.3" r="1.0"/><circle cx="287.4" cy="471.3" r="1.0"/><circle cx="289.6" cy="467.1" r="1.0"/><circle cx="292.7" cy="465.8" r="1.0"/><circle cx="294.9" cy="463.4" r="1.0"/><circle cx="297.1" cy="458.6" r="1.0"/><circle cx="299.7" cy="460.8" r="1.0"/><circle cx="301.5" cy="459.9" r="1.0"/><circle cx="303.2" cy="458.6" r="1.0"/><circle cx="305" cy="462.9" r="1.0"/><circle cx="306.7" cy="464.7" r="1.0"/><circle cx="308.5" cy="461.6" r="1.0"/><circle cx="310.6" cy="459.9" r="1.0"/><circle cx="312.8" cy="463.8" r="1.0"/><circle cx="314.2" cy="469.1" r="1.0"/><circle cx="315.5" cy="477.8" r="1.0"/><circle cx="317.7" cy="480.9" r="1.0"/><circle cx="319.5" cy="482" r="1.0"/><circle cx="321.2" cy="483.1" r="1.0"/><circle cx="323" cy="484.2" r="1.0"/><circle cx="324.7" cy="485.3" r="1.0"/><circle cx="326.5" cy="486.4" r="1.0"/><circle cx="328.2" cy="487.5" r="1.0"/><circle cx="330.8" cy="490.5" r="1.0"/><circle cx="332.5" cy="491.8" r="1.0"/><circle cx="333.9" cy="494.9" r="1.0"/></g>
<path d="M286.3,492.4 C288.0,492.3 293.8,491.2 296.6,491.7 C299.5,492.1 301.9,493.6 303.4,495.1 C304.9,496.6 304.5,499.2 305.4,500.6 C306.3,502.0 306.9,502.7 308.9,503.4 C310.8,504.1 314.6,504.4 317.1,504.7 C319.6,505.0 322.1,504.8 323.9,505.4 C325.7,506.0 327.3,507.7 328,508.1" fill="none" stroke="#a0c040" stroke-width="1.5" stroke-linecap="round" stroke-linejoin="round" stroke-dasharray="0 1.8" opacity="1"/>
<path d="M276.3,499.3 C277.2,499.6 280.2,500.3 282,500.8 C283.8,501.3 285.6,502.3 287.1,502.4 C288.6,502.5 289.7,501.7 291,501.5 C292.3,501.3 293.7,501.1 295.1,501.3 C296.6,501.6 298.0,502.1 299.7,503 C301.4,503.9 303.3,505.8 305.4,507 C307.5,508.2 309.5,509.2 312.2,510.4 C314.9,511.6 319.8,513.7 321.3,514.4" fill="none" stroke="#6a6a9c" stroke-width="2.1" stroke-linecap="round" stroke-linejoin="round" stroke-dasharray="0 1.3" opacity="1"/>
<path d="M272.9,504.1 C274.1,504.2 277.6,504.8 280,505 C282.4,505.2 284.2,505.2 287.1,505.3 C290.0,505.4 295.3,505.2 297.4,505.8 C299.5,506.4 298.1,507.5 299.7,508.7 C301.3,509.9 303.7,511.2 307.1,512.7 C310.5,514.2 318.0,516.7 320.2,517.5" fill="none" stroke="#e090d8" stroke-width="1.8" stroke-linecap="round" stroke-linejoin="round" stroke-dasharray="0 1.0" opacity="1"/>
<path d="M245.9,495.8 C247.3,495.6 252.0,494.6 254.2,494.5 C256.4,494.4 257.5,493.9 258.9,495.1 C260.3,496.4 260.9,499.9 262.4,502 C263.9,504.1 265.5,506.1 267.8,507.5 C270.1,508.9 273.3,509.3 276,510.2 C278.7,511.1 281.2,511.8 284.2,512.9 C287.2,514.0 291.1,516.1 293.8,517 C296.6,517.9 299.6,518.2 300.7,518.4" fill="none" stroke="#30c0d8" stroke-width="1.4" stroke-linecap="round" stroke-linejoin="round" stroke-dasharray="0 2.4" opacity="1"/>
<g fill="#6a6a40" opacity="1"><circle cx="648.1" cy="300.1" r="0.8"/><circle cx="652.3" cy="311.9" r="0.8"/><circle cx="656.6" cy="322.6" r="0.8"/><circle cx="661.0" cy="333.3" r="0.8"/><circle cx="665.0" cy="343.3" r="0.8"/><circle cx="669.2" cy="350.6" r="0.8"/><circle cx="673.5" cy="360.1" r="0.8"/><circle cx="677.7" cy="367.2" r="0.8"/><circle cx="682.0" cy="372.9" r="0.8"/><circle cx="686.1" cy="377.9" r="0.8"/><circle cx="690.5" cy="383.1" r="0.8"/><circle cx="694.8" cy="388.6" r="0.8"/><circle cx="699.0" cy="392.6" r="0.8"/><circle cx="702.6" cy="397.4" r="0.8"/><circle cx="706.5" cy="402.6" r="0.8"/><circle cx="710.7" cy="407.7" r="0.8"/><circle cx="715.3" cy="412.2" r="0.8"/><circle cx="719.2" cy="413.7" r="0.8"/><circle cx="723.8" cy="414.7" r="0.8"/><circle cx="727.7" cy="415.4" r="0.8"/><circle cx="731.6" cy="416.6" r="0.8"/><circle cx="735.3" cy="420.5" r="0.8"/><circle cx="738.7" cy="424.9" r="0.8"/><circle cx="742.4" cy="428.1" r="0.8"/><circle cx="745.7" cy="433.9" r="0.8"/><circle cx="748.8" cy="438.4" r="0.8"/><circle cx="752.1" cy="444.1" r="0.8"/><circle cx="755.0" cy="447.7" r="0.8"/><circle cx="758.3" cy="451.1" r="0.8"/><circle cx="761.3" cy="454.3" r="0.8"/><circle cx="757.6" cy="461.4" r="0.8"/><circle cx="760.5" cy="465.2" r="0.8"/></g>
<path d="M695.7,408.1 C696.0,408.8 696.9,411.0 697.7,412.2 C698.5,413.4 699.2,413.8 700.3,415.4 C701.4,417.0 703.0,420.0 704.2,421.8 C705.4,423.6 705.9,425.0 707.4,426.2 C708.9,427.4 711.5,427.9 713.4,429.0 C715.3,430.1 717.1,431.5 718.6,432.6 C720.1,433.7 721.1,434.6 722.4,435.8 C723.7,437.0 725.1,438.1 726.4,439.6 C727.7,441.1 729.0,443.4 730.3,444.8 C731.6,446.2 732.5,447.5 734.2,447.9 C735.9,448.3 738.5,447.1 740.7,447.3 C742.9,447.5 745.5,448.8 747.2,449.2 C749.0,449.6 750.5,449.8 751.2,449.9" fill="none" stroke="#505058" stroke-width="1.4" stroke-linecap="round" stroke-linejoin="round" stroke-dasharray="0 2.6" opacity="1"/>
<path d="M726.8,453.6 C727.7,454.3 730.2,456.7 732.4,458.0 C734.6,459.3 738.4,459.9 740.2,461.3 C742.0,462.7 742.2,463.8 743.0,466.2 C743.8,468.6 744.5,473.4 745.2,475.5 C745.9,477.6 746.7,477.5 747.4,478.8 C748.1,480.1 748.6,482.2 749.6,483.2 C750.6,484.2 752.2,484.0 753.6,484.9 C755.0,485.8 756.8,487.3 758.1,488.7 C759.4,490.1 760.1,492.0 761.4,493.1 C762.7,494.2 765.1,494.9 765.9,495.3" fill="none" stroke="#9898d8" stroke-width="1.6" stroke-linecap="round" stroke-linejoin="round" stroke-dasharray="0 4.0" opacity="1"/>
<path d="M565.2,483.9 C567.5,484.8 574.0,487.3 579.2,489.1 C584.4,490.9 590.8,493.3 596.6,494.8 C602.4,496.3 606.4,496.8 614.1,498.2 C621.9,499.6 637.7,502.2 643.1,503.3 C648.5,504.4 646.1,504.7 646.7,505.0" fill="none" stroke="#b08a28" stroke-width="1.3" stroke-linecap="round" stroke-linejoin="round" stroke-dasharray="0 1.6" opacity="1"/>
<g fill="#282414" opacity="1"><circle cx="581.5" cy="490.2" r="0.8"/><circle cx="583.6" cy="490.9" r="0.8"/><circle cx="585.7" cy="491.6" r="0.8"/><circle cx="587.9" cy="492.3" r="0.8"/><circle cx="590.0" cy="493.0" r="0.8"/><circle cx="592.1" cy="493.7" r="0.8"/><circle cx="594.4" cy="494.5" r="0.8"/><circle cx="596.6" cy="495.3" r="0.8"/><circle cx="599.6" cy="495.7" r="0.8"/><circle cx="603.7" cy="496.5" r="0.8"/><circle cx="607.7" cy="497.3" r="0.8"/><circle cx="611.8" cy="498.0" r="0.8"/><circle cx="616.4" cy="498.8" r="0.8"/><circle cx="621.1" cy="499.6" r="0.8"/><circle cx="625.7" cy="500.1" r="0.8"/><circle cx="630.4" cy="500.7" r="0.8"/><circle cx="636.2" cy="501.6" r="0.8"/><circle cx="642.0" cy="502.5" r="0.8"/><circle cx="646.7" cy="503.3" r="0.8"/><circle cx="652.5" cy="503.3" r="0.8"/><circle cx="657.1" cy="504.1" r="0.8"/><circle cx="661.8" cy="505.0" r="0.8"/><circle cx="666.5" cy="506.4" r="0.8"/><circle cx="671.1" cy="507.9" r="0.8"/><circle cx="673.4" cy="509.0" r="0.8"/><circle cx="675.1" cy="510.5" r="0.8"/></g>
<path d="M601.3,468.0 C603.4,468.6 609.1,470.0 614.1,471.4 C619.1,472.8 626.1,475.0 631.5,476.5 C636.9,478.0 642.8,479.6 646.7,480.5 C650.6,481.4 650.5,481.6 654.8,482.2 C659.1,482.8 668.4,483.6 672.3,483.9 C676.2,484.2 676.1,483.9 678.3,483.9 C680.5,483.9 683.1,483.7 685.4,483.8 C687.7,483.9 689.6,483.7 692.2,484.3 C694.8,484.9 698.5,486.9 701.1,487.6 C703.7,488.3 706.0,487.8 707.9,488.7 C709.8,489.6 710.9,492.1 712.2,493.1 C713.5,494.1 715.0,494.4 715.6,494.7" fill="none" stroke="#b0a0e0" stroke-width="1.8" stroke-linecap="round" stroke-linejoin="round" stroke-dasharray="0 3.0" opacity="1"/>
<path d="M633.8,483.4 C635.3,483.4 640.4,484.4 643.1,483.6 C645.8,482.8 647.9,479.2 650.2,478.8 C652.5,478.4 655.0,480.3 657.1,481.1 C659.2,481.9 661.9,483.0 662.9,483.4" fill="none" stroke="#c0d8a0" stroke-width="0.9" stroke-linecap="round" stroke-linejoin="round" stroke-dasharray="0 1.2" opacity="1"/>
<path d="M581.5,488.5 C583.0,488.6 587.3,489.4 590.8,489.1 C594.3,488.8 597.5,486.8 602.4,486.8 C607.2,486.8 614.1,488.4 619.9,489.1 C625.7,489.9 631.5,490.8 637.3,491.3 C643.1,491.8 650.9,491.5 654.8,491.9 C658.7,492.3 659.2,492.9 660.7,493.6 C662.2,494.3 663.9,495.1 664.1,495.9 C664.3,496.7 662.2,497.8 661.8,498.2" fill="none" stroke="#f0b8c8" stroke-width="1.5" stroke-linecap="round" stroke-linejoin="round" stroke-dasharray="0 3.2" opacity="1"/>
<path d="M665.5,501.7 C667.6,501.8 675.0,501.9 678.3,502.0 C681.6,502.1 681.3,502.1 685.4,502.3 C689.5,502.6 698.4,503.2 702.8,503.5 C707.2,503.8 708.4,503.5 712.0,503.8 C715.6,504.1 720.5,504.8 724.2,505.2 C727.9,505.6 731.3,506.0 734.4,506.4 C737.5,506.8 741.6,507.6 743.0,507.8" fill="none" stroke="#a09898" stroke-width="1.5" stroke-linecap="round" stroke-linejoin="round" stroke-dasharray="0 2.6" opacity="1"/>
<path d="M682.6,454.7 C683.2,455.6 683.6,458.3 686.2,460.1 C688.8,461.9 694.4,463.7 698.4,465.4 C702.4,467.1 706.4,468.4 710.4,470.2 C714.4,472.0 718.5,474.0 722.5,476.1 C726.5,478.2 730.6,480.3 734.6,482.6 C738.6,484.9 742.7,487.5 746.7,489.7 C750.7,491.9 755.2,494.1 758.8,495.7 C762.4,497.3 766.9,498.6 768.5,499.2" fill="none" stroke="#7070c8" stroke-width="1.5" stroke-linecap="round" stroke-linejoin="round" stroke-dasharray="0 2.2" opacity="1"/>
<path d="M701.9,466.0 C704.3,467.4 710.9,471.3 716.4,474.3 C721.9,477.3 728.5,480.6 734.6,483.8 C740.7,487.0 747.1,490.9 752.7,493.3 C758.4,495.7 765.9,497.2 768.5,498.0" fill="none" stroke="#80b0e0" stroke-width="1.3" stroke-linecap="round" stroke-linejoin="round" stroke-dasharray="0 1.6" opacity="1"/>
<path d="M681.6,474.4 C683.0,473.9 687.4,471.7 689.9,471.7 C692.4,471.7 694.5,474.1 696.6,474.4 C698.8,474.7 701.1,474.2 702.8,473.4 C704.5,472.6 705.3,469.9 706.7,469.5 C708.1,469.1 708.7,471.4 711.1,471.2 C713.5,471.0 718.2,467.8 721.2,468.4 C724.2,469.0 726.7,472.7 729.1,475.0 C731.5,477.3 733.7,480.0 735.7,482.1 C737.7,484.2 739.4,485.8 741.3,487.6 C743.2,489.4 745.2,491.5 746.9,493.1 C748.6,494.7 749.6,495.7 751.4,497.4 C753.2,499.1 756.6,502.4 757.6,503.4" fill="none" stroke="#203818" stroke-width="1.5" stroke-linecap="round" stroke-linejoin="round" stroke-dasharray="0 3.2" opacity="1"/>
<path d="M663.0,473.7 C665.0,474.1 672.0,475.3 674.8,476.1 C677.6,476.9 678.3,477.5 679.9,478.3 C681.5,479.1 681.0,479.0 684.4,480.8 C687.8,482.6 695.9,487.1 700.0,489.2 C704.1,491.2 705.6,491.8 709.0,493.1 C712.4,494.4 716.8,496.3 720.1,496.9 C723.5,497.5 725.4,497.1 729.1,496.9 C732.8,496.7 738.7,495.8 742.4,495.8 C746.1,495.8 748.1,495.9 751.4,496.9 C754.7,497.9 759.5,500.0 762.4,501.6 C765.2,503.2 766.4,505.3 768.5,506.3 C770.6,507.3 774.0,507.3 775.1,507.5" fill="none" stroke="#e06868" stroke-width="1.4" stroke-linecap="round" stroke-linejoin="round" stroke-dasharray="0 3.8" opacity="1"/>
<path d="M759.8,494.5 C761.0,495.0 763.3,495.7 766.8,497.3 C770.3,498.9 777.2,502.3 780.7,504.1 C784.2,505.9 785.2,507.1 787.8,508.2 C790.4,509.3 794.7,510.5 796.1,511.0" fill="none" stroke="#a0a0e0" stroke-width="1.5" stroke-linecap="round" stroke-linejoin="round" stroke-dasharray="0 3.4" opacity="1"/>
<path d="M680.2,496.3 C682.8,496.1 691.9,494.8 695.9,495.1 C699.9,495.4 701.0,496.7 704.4,498.0 C707.8,499.3 712.4,501.6 716.4,502.8 C720.4,504.0 724.5,503.9 728.5,505.2 C732.5,506.5 736.7,509.1 740.7,510.5 C744.7,511.9 750.7,513.0 752.7,513.5" fill="none" stroke="#5060c0" stroke-width="1.4" stroke-linecap="round" stroke-linejoin="round" stroke-dasharray="0 2.0" opacity="1"/>
<path d="M712.4,504.1 C715.6,504.6 727.1,506.4 731.8,507.0 C736.5,507.6 736.7,507.0 740.7,507.5 C744.8,508.0 751.4,509.0 756.1,509.8 C760.8,510.6 766.6,511.8 768.7,512.2" fill="none" stroke="#709050" stroke-width="1.4" stroke-linecap="round" stroke-linejoin="round" stroke-dasharray="0 2.0" opacity="1"/>
<path d="M693.1,513.6 C695.5,514.1 701.2,516.1 707.6,516.5 C714.0,516.9 724.5,516.2 731.8,516.0 C739.1,515.8 748.0,515.6 751.2,515.5" fill="none" stroke="#f0d8a8" stroke-width="1.4" stroke-linecap="round" stroke-linejoin="round" stroke-dasharray="0 1.4" opacity="1"/>
<path d="M751.2,514.6 C757.3,514.9 775.7,515.6 787.8,516.4 C799.9,517.2 818.0,518.7 824.0,519.2" fill="none" stroke="#d8d870" stroke-width="1.4" stroke-linecap="round" stroke-linejoin="round" stroke-dasharray="0 1.2" opacity="1"/>
<g fill="#f0a870" opacity="1"><circle cx="809.7" cy="470.7" r="1.0"/><circle cx="813.3" cy="470.7" r="1.0"/><circle cx="815.5" cy="466.5" r="1.0"/><circle cx="818.7" cy="465.2" r="1.0"/><circle cx="820.9" cy="462.8" r="1.0"/><circle cx="823.1" cy="458.0" r="1.0"/><circle cx="825.8" cy="460.2" r="1.0"/><circle cx="827.6" cy="459.3" r="1.0"/><circle cx="829.4" cy="458.0" r="1.0"/><circle cx="831.2" cy="462.3" r="1.0"/><circle cx="832.9" cy="464.1" r="1.0"/><circle cx="834.8" cy="461.0" r="1.0"/><circle cx="836.9" cy="459.3" r="1.0"/><circle cx="839.2" cy="463.2" r="1.0"/><circle cx="840.6" cy="468.5" r="1.0"/><circle cx="841.9" cy="477.2" r="1.0"/><circle cx="844.1" cy="480.3" r="1.0"/><circle cx="846.0" cy="481.4" r="1.0"/><circle cx="847.7" cy="482.5" r="1.0"/><circle cx="849.5" cy="483.6" r="1.0"/><circle cx="851.3" cy="484.7" r="1.0"/><circle cx="853.1" cy="485.8" r="1.0"/><circle cx="854.8" cy="486.9" r="1.0"/><circle cx="857.5" cy="489.9" r="1.0"/><circle cx="859.2" cy="491.2" r="1.0"/><circle cx="860.7" cy="494.3" r="1.0"/></g>
<path d="M812.1,491.8 C813.9,491.7 819.7,490.7 822.6,491.1 C825.5,491.6 828.1,493.0 829.6,494.5 C831.1,496.0 830.7,498.6 831.6,500.0 C832.5,501.4 833.2,502.1 835.2,502.8 C837.2,503.5 841.0,503.8 843.5,504.1 C846.0,504.4 848.6,504.2 850.5,504.8 C852.4,505.4 853.9,507.1 854.6,507.5" fill="none" stroke="#a0c040" stroke-width="1.5" stroke-linecap="round" stroke-linejoin="round" stroke-dasharray="0 1.8" opacity="1"/>
<path d="M801.9,498.7 C802.9,498.9 805.9,499.7 807.8,500.2 C809.6,500.7 811.5,501.7 813.0,501.8 C814.5,501.9 815.5,501.1 816.9,500.9 C818.2,500.7 819.6,500.4 821.1,500.7 C822.6,500.9 824.0,501.4 825.8,502.4 C827.5,503.3 829.5,505.2 831.6,506.4 C833.7,507.6 835.8,508.6 838.5,509.8 C841.2,511.0 846.2,513.1 847.8,513.8" fill="none" stroke="#6a6a9c" stroke-width="2.1" stroke-linecap="round" stroke-linejoin="round" stroke-dasharray="0 1.3" opacity="1"/>
<path d="M798.5,503.5 C799.7,503.6 803.3,504.2 805.7,504.4 C808.1,504.6 810.0,504.6 813.0,504.7 C816.0,504.8 821.4,504.6 823.5,505.2 C825.6,505.8 824.2,507.0 825.8,508.1 C827.4,509.2 829.8,510.6 833.3,512.1 C836.8,513.6 844.5,516.1 846.7,516.9" fill="none" stroke="#e090d8" stroke-width="1.8" stroke-linecap="round" stroke-linejoin="round" stroke-dasharray="0 1.0" opacity="1"/>
<path d="M771.0,495.2 C772.4,495.0 777.2,494.0 779.4,493.9 C781.6,493.8 782.8,493.2 784.2,494.5 C785.6,495.8 786.3,499.3 787.8,501.4 C789.3,503.5 791.0,505.5 793.3,506.9 C795.6,508.3 798.8,508.7 801.6,509.6 C804.4,510.5 807.0,511.2 810.0,512.3 C813.0,513.4 817.0,515.5 819.8,516.4 C822.6,517.3 825.6,517.6 826.8,517.8" fill="none" stroke="#30c0d8" stroke-width="1.4" stroke-linecap="round" stroke-linejoin="round" stroke-dasharray="0 2.4" opacity="1"/>
</g>
</svg></div></body></html>
